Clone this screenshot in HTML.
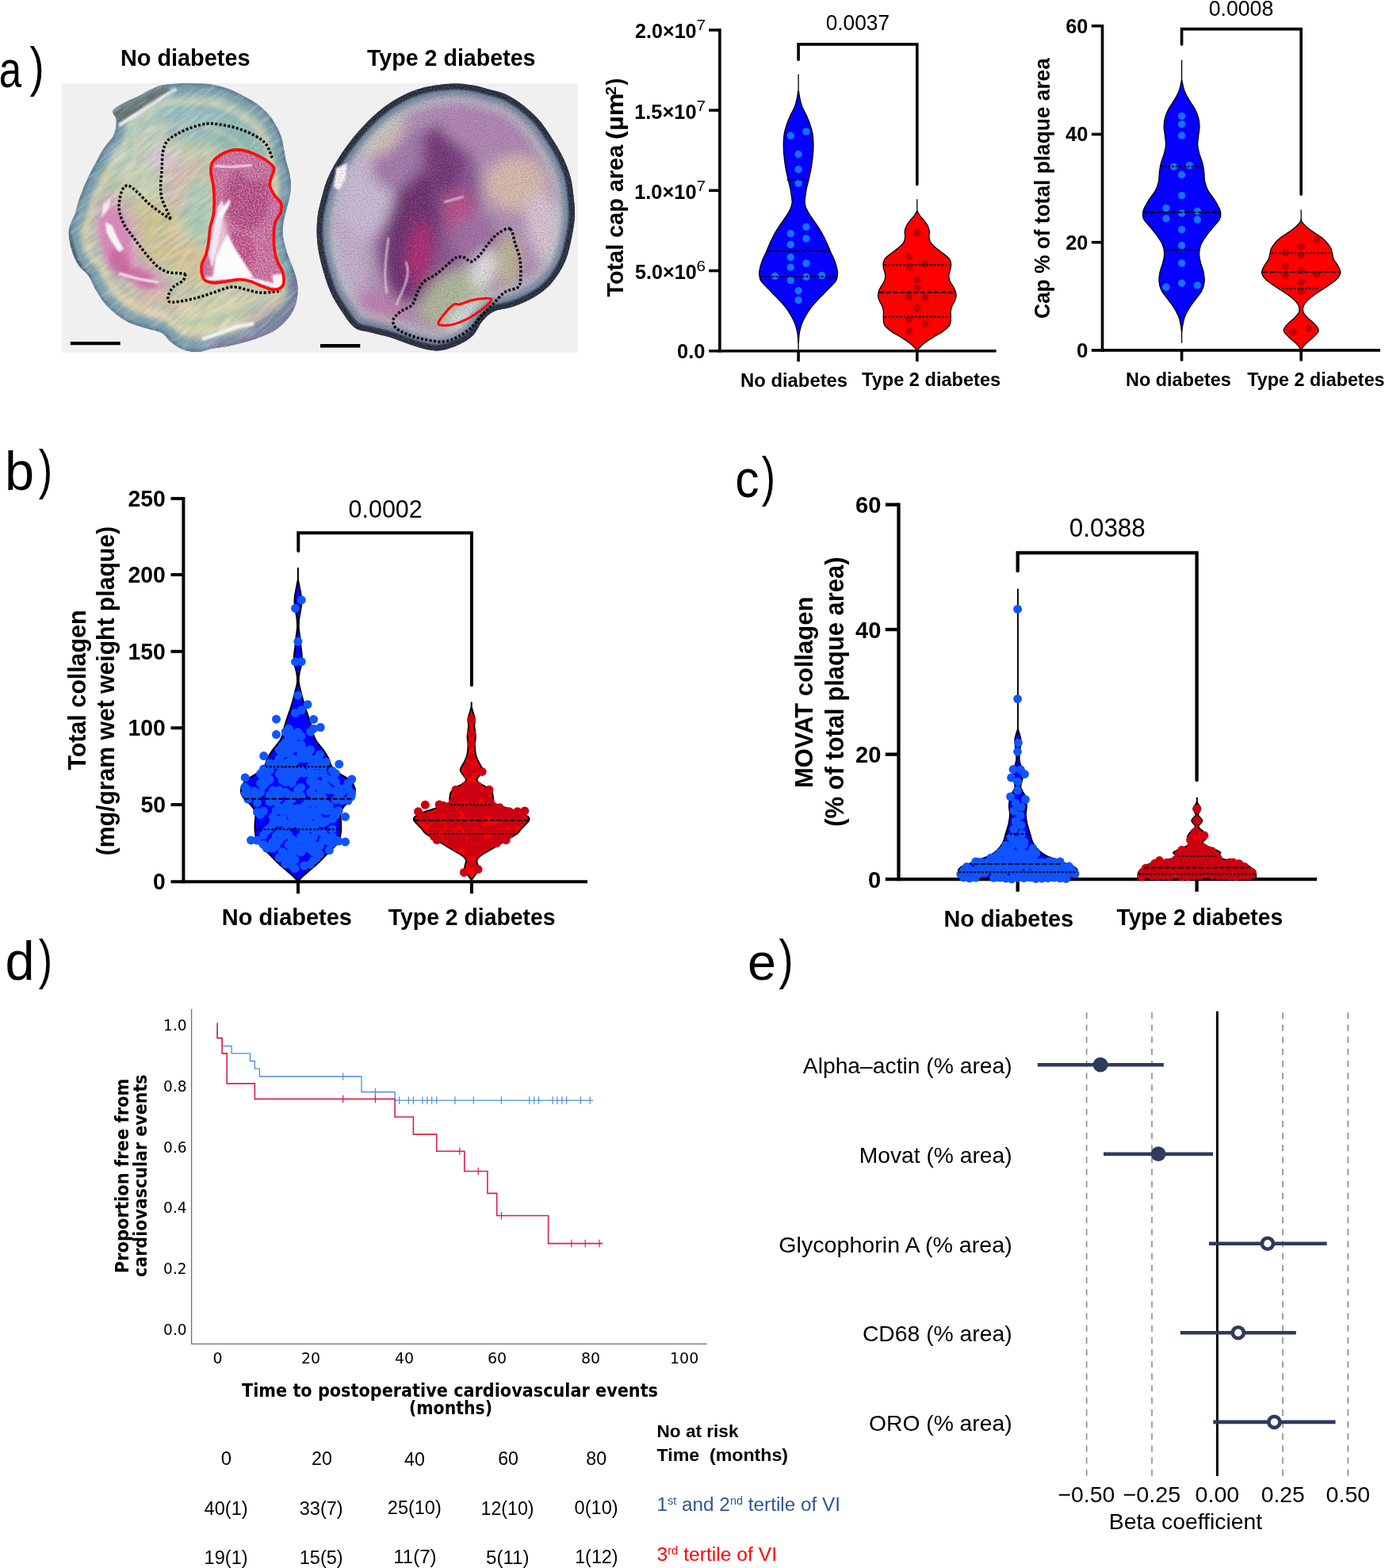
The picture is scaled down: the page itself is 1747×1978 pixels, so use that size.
<!DOCTYPE html>
<html lang="en"><head><meta charset="utf-8"><title>Figure</title>
<style>
html,body{margin:0;padding:0;background:#fff}
svg{display:block}
text{white-space:pre}
</style></head><body>
<svg width="1747" height="1978" viewBox="0 0 1747 1978">
<rect width="1747" height="1978" fill="#fff"/>
<!-- panel_a_img -->
<defs>
<clipPath id="cT1"><path d="M224.8 105.5C231.6 105.1 238.1 105 245 105.2C251.9 105.4 258.8 105.4 266 106.5C273.2 107.6 281.2 109.6 288 112C294.8 114.4 301 117.8 307 121C313 124.2 318.8 127.2 324 131C329.2 134.8 334 139.1 338 143.6C342 148.1 345.2 153.2 348 158C350.8 162.8 353 167.4 354.7 172.4C356.4 177.4 357 182.9 358 188C359 193.1 359.6 198 360.8 203C362 208 364 212.8 365 218C366 223.2 367 228.7 367 234C367 239.3 366 244.8 365 250C364 255.2 362.2 259.8 361 265C359.8 270.2 358.2 275.8 357.5 281C356.8 286.2 356.3 290.8 356.7 296C357.1 301.2 358.6 306.8 360 312C361.4 317.2 363.2 322 365 327C366.8 332 369.3 336.8 371 342C372.7 347.2 374.3 352.7 375 358C375.7 363.3 375.7 368.8 375 374C374.3 379.2 373.2 384.2 371 389C368.8 393.8 365.8 398.6 362 403C358.2 407.4 354 411.9 348.5 415.6C343 419.3 335.9 422.3 329 425C322.1 427.7 314.2 430 307 432C299.8 434 292.8 435.7 286 437C279.2 438.3 271.3 438.9 266 440C260.7 441.1 257.4 442.8 254 443.5C250.6 444.2 248.8 444.2 245.5 444C242.2 443.8 237.4 443 234 442C230.6 441 228.1 440 224.8 438C221.5 436 217.5 433 214 430C210.5 427 209 422.7 204 420C199 417.3 190.8 416.2 184 414C177.2 411.8 169.3 410 163 407C156.7 404 151.2 400.1 146 396C140.8 391.9 136.2 387.6 132 382.6C127.8 377.6 124.4 371.8 121 366C117.6 360.2 114.7 352.3 111.5 347.6C108.3 342.9 104.8 341.4 102 338C99.2 334.6 97.2 331.7 95 327C92.8 322.3 90.4 315.8 89 310C87.6 304.2 86.6 297 86.8 292C87 287 88.6 283.8 90 280C91.4 276.2 93.5 273.3 95 269C96.5 264.7 97.3 259.2 99 254C100.7 248.8 102.7 243.7 105 238C107.3 232.3 110.2 225.8 113 220C115.8 214.2 119 208.5 122 203C125 197.5 127.6 192.1 131 187C134.4 181.9 139.9 176.6 142.4 172.4C144.9 168.2 145.3 165.8 146 162C146.7 158.2 147.1 153.6 146.5 149.8C145.9 146.1 140.5 143 142.4 139.5C144.3 136 152.5 132.1 158 129C163.5 125.9 170.1 123.7 175.4 121C180.7 118.3 185.2 115.2 190 113C194.8 110.8 198.2 108.8 204 107.5C209.8 106.2 218 105.9 224.8 105.5Z"/></clipPath>
<clipPath id="cT2"><path d="M571.3 105.5C581.6 105 588.4 106.3 596 107.5C603.6 108.7 609.8 110.8 616.7 112.7C623.6 114.6 630.4 115.7 637.3 118.8C644.2 121.9 651 126 657.9 131.2C664.8 136.4 672.3 142.9 678.5 149.8C684.7 156.7 689.9 164.5 695 172.4C700.1 180.3 705.3 188.5 709.4 197.1C713.5 205.7 717.3 215 719.7 223.9C722.1 232.8 722.9 242.1 723.8 250.7C724.6 259.3 725.5 266.2 724.8 275.5C724.1 284.8 721.9 296.8 719.7 306.4C717.5 316 715.5 324.5 711.4 333.1C707.3 341.7 701.2 351 695 357.9C688.8 364.8 682.3 369.6 674.4 374.4C666.5 379.2 656.2 383.6 647.6 386.7C639 389.8 629.3 389.8 622.8 392.9C616.3 396 612.9 400.1 608.4 405.3C603.9 410.5 601.5 418.7 596 423.8C590.5 428.9 583 433.1 575.5 436.2C568 439.3 559.6 442.4 550.7 442.4C541.8 442.4 531.5 439 521.9 436.2C512.3 433.4 502 428.6 493 425.8C484 423 475.6 421.6 468 419.5C460.4 417.4 453.8 417.9 447.7 413.5C441.6 409.1 436.3 400.4 431.2 392.9C426.1 385.3 420.9 377.5 416.8 368.2C412.7 358.9 409.2 347.6 406.5 337.3C403.8 327 401.3 316.7 400.3 306.4C399.3 296.1 399.3 285.5 400.3 275.5C401.3 265.5 404.1 255.5 406.5 246.6C408.9 237.7 410.6 230.8 414.7 221.9C418.8 213 425 202.3 431.2 193C437.4 183.7 444.2 174.8 451.8 166.2C459.4 157.6 467.9 148.7 476.5 141.5C485.1 134.3 493.7 128.2 503.3 123C512.9 117.8 522.9 113.5 534.2 110.6C545.5 107.7 561 106 571.3 105.5Z"/></clipPath>
<clipPath id="cImg"><rect x="78.2" y="105" width="650.8" height="339.8"/></clipPath>
<clipPath id="cR1"><path d="M268.1 204.4C270.9 200.3 277.2 195.6 282.5 193C287.8 190.4 294.2 188.9 300.1 188.9C306 188.9 311.9 190.9 317.6 193C323.3 195.1 329.5 198.2 334.1 201.3C338.7 204.4 344 207.8 345.4 211.6C346.8 215.4 343.2 220.1 342.3 223.9C341.4 227.7 339.5 230.4 340.2 234.2C340.9 238 344 242.8 346.4 246.6C348.8 250.4 353.5 253.1 354.7 256.9C355.9 260.7 354.8 265.5 353.6 269.3C352.4 273.1 348.8 275.2 347.4 279.6C346 284.1 345.6 289.8 345.4 296C345.2 302.2 345.5 310.8 346.4 316.7C347.2 322.6 348.8 326.6 350.5 331.1C352.2 335.6 355.5 339 356.7 343.5C357.9 348 358.4 354.5 357.7 357.9C357 361.3 355.2 362.8 352.6 364C350 365.2 346.4 365.8 342.3 365.1C338.2 364.4 332.4 361.6 327.9 359.9C323.4 358.2 319.6 356 315.5 354.8C311.4 353.6 307.9 352.7 303.1 352.7C298.3 352.7 292.2 354.1 286.7 354.8C281.2 355.5 274.8 357 270.2 356.8C265.6 356.6 261.4 355.7 258.8 353.8C256.2 351.9 255.4 348.9 254.7 345.5C254 342.1 253.8 337.2 254.7 333.1C255.6 329 258.5 325.2 259.9 320.8C261.3 316.4 262.1 311.9 263 306.4C263.9 300.9 264 293.6 265 287.8C266 282 268.2 276.8 269.1 271.3C270 265.8 270.2 261 270.2 254.8C270.2 248.6 269.8 240.4 269.1 234.2C268.4 228 266.2 222.8 266 217.8C265.8 212.8 265.4 208.5 268.1 204.4Z"/></clipPath>
<filter id="b3" x="-30%" y="-30%" width="160%" height="160%"><feGaussianBlur stdDeviation="3"/></filter>
<filter id="b5" x="-30%" y="-30%" width="160%" height="160%"><feGaussianBlur stdDeviation="5"/></filter>
<filter id="b8" x="-40%" y="-40%" width="180%" height="180%"><feGaussianBlur stdDeviation="8"/></filter>
<filter id="b1" x="-20%" y="-20%" width="140%" height="140%"><feGaussianBlur stdDeviation="1.2"/></filter>
<filter id="grain" x="0" y="0" width="100%" height="100%"><feTurbulence type="fractalNoise" baseFrequency="0.55" numOctaves="2" seed="4" result="n"/><feColorMatrix in="n" type="matrix" values="0 0 0 0 1  0 0 0 0 1  0 0 0 0 1  1.6 0 0 0 -0.62"/></filter>
<filter id="grainD" x="0" y="0" width="100%" height="100%"><feTurbulence type="fractalNoise" baseFrequency="0.6" numOctaves="2" seed="9" result="n"/><feColorMatrix in="n" type="matrix" values="0 0 0 0 0.25  0 0 0 0 0.05  0 0 0 0 0.25  0 1.8 0 0 -0.75"/></filter>
<filter id="fib" x="0" y="0" width="100%" height="100%"><feTurbulence type="fractalNoise" baseFrequency="0.035 0.22" numOctaves="2" seed="11" result="n"/><feColorMatrix in="n" type="matrix" values="0 0 0 0 1  0 0 0 0 1  0 0 0 0 1  2.2 0 0 0 -0.95"/></filter>
<filter id="fibD" x="0" y="0" width="100%" height="100%"><feTurbulence type="fractalNoise" baseFrequency="0.04 0.25" numOctaves="2" seed="23" result="n"/><feColorMatrix in="n" type="matrix" values="0 0 0 0 0.25  0 0 0 0 0.35  0 0 0 0 0.4  0 2.2 0 0 -0.95"/></filter>
</defs>
<rect x="78.2" y="105" width="650.8" height="339.8" fill="#eff0ef"/>
<g clip-path="url(#cImg)">
<g clip-path="url(#cT1)">
<path d="M224.8 105.5C231.6 105.1 238.1 105 245 105.2C251.9 105.4 258.8 105.4 266 106.5C273.2 107.6 281.2 109.6 288 112C294.8 114.4 301 117.8 307 121C313 124.2 318.8 127.2 324 131C329.2 134.8 334 139.1 338 143.6C342 148.1 345.2 153.2 348 158C350.8 162.8 353 167.4 354.7 172.4C356.4 177.4 357 182.9 358 188C359 193.1 359.6 198 360.8 203C362 208 364 212.8 365 218C366 223.2 367 228.7 367 234C367 239.3 366 244.8 365 250C364 255.2 362.2 259.8 361 265C359.8 270.2 358.2 275.8 357.5 281C356.8 286.2 356.3 290.8 356.7 296C357.1 301.2 358.6 306.8 360 312C361.4 317.2 363.2 322 365 327C366.8 332 369.3 336.8 371 342C372.7 347.2 374.3 352.7 375 358C375.7 363.3 375.7 368.8 375 374C374.3 379.2 373.2 384.2 371 389C368.8 393.8 365.8 398.6 362 403C358.2 407.4 354 411.9 348.5 415.6C343 419.3 335.9 422.3 329 425C322.1 427.7 314.2 430 307 432C299.8 434 292.8 435.7 286 437C279.2 438.3 271.3 438.9 266 440C260.7 441.1 257.4 442.8 254 443.5C250.6 444.2 248.8 444.2 245.5 444C242.2 443.8 237.4 443 234 442C230.6 441 228.1 440 224.8 438C221.5 436 217.5 433 214 430C210.5 427 209 422.7 204 420C199 417.3 190.8 416.2 184 414C177.2 411.8 169.3 410 163 407C156.7 404 151.2 400.1 146 396C140.8 391.9 136.2 387.6 132 382.6C127.8 377.6 124.4 371.8 121 366C117.6 360.2 114.7 352.3 111.5 347.6C108.3 342.9 104.8 341.4 102 338C99.2 334.6 97.2 331.7 95 327C92.8 322.3 90.4 315.8 89 310C87.6 304.2 86.6 297 86.8 292C87 287 88.6 283.8 90 280C91.4 276.2 93.5 273.3 95 269C96.5 264.7 97.3 259.2 99 254C100.7 248.8 102.7 243.7 105 238C107.3 232.3 110.2 225.8 113 220C115.8 214.2 119 208.5 122 203C125 197.5 127.6 192.1 131 187C134.4 181.9 139.9 176.6 142.4 172.4C144.9 168.2 145.3 165.8 146 162C146.7 158.2 147.1 153.6 146.5 149.8C145.9 146.1 140.5 143 142.4 139.5C144.3 136 152.5 132.1 158 129C163.5 125.9 170.1 123.7 175.4 121C180.7 118.3 185.2 115.2 190 113C194.8 110.8 198.2 108.8 204 107.5C209.8 106.2 218 105.9 224.8 105.5Z" fill="#c2c6a4"/>
<g filter="url(#b8)"><ellipse cx="250" cy="150" rx="75" ry="30" fill="#93b9bb" transform="rotate(10 250 150)"/><ellipse cx="300" cy="175" rx="45" ry="22" fill="#86b5ac" transform="rotate(25 300 175)"/><ellipse cx="200" cy="215" rx="50" ry="35" fill="#c3cfae"/><ellipse cx="170" cy="180" rx="45" ry="28" fill="#bccdb8" transform="rotate(-40 170 180)"/><ellipse cx="235" cy="235" rx="30" ry="35" fill="#d3b9a6"/><ellipse cx="195" cy="295" rx="35" ry="45" fill="#cdc18c" transform="rotate(-35 195 295)"/><ellipse cx="240" cy="320" rx="22" ry="40" fill="#d6c090" transform="rotate(-20 240 320)"/><ellipse cx="250" cy="265" rx="18" ry="45" fill="#a9c9b0"/><ellipse cx="265" cy="400" rx="70" ry="28" fill="#d0d0a8" transform="rotate(-8 265 400)"/><ellipse cx="190" cy="385" rx="45" ry="18" fill="#d8bfa0" transform="rotate(15 190 385)"/><ellipse cx="147" cy="300" rx="26" ry="55" fill="#d59cc0" transform="rotate(-12 147 300)"/><ellipse cx="185" cy="350" rx="30" ry="14" fill="#d58fb8" transform="rotate(30 185 350)"/><ellipse cx="335" cy="410" rx="35" ry="22" fill="#a489a8" transform="rotate(-30 335 410)"/><ellipse cx="255" cy="435" rx="50" ry="8" fill="#9c85a6"/><ellipse cx="205" cy="200" rx="18" ry="14" fill="#d7bfd2"/></g>
<path d="M224.8 105.5C231.6 105.1 238.1 105 245 105.2C251.9 105.4 258.8 105.4 266 106.5C273.2 107.6 281.2 109.6 288 112C294.8 114.4 301 117.8 307 121C313 124.2 318.8 127.2 324 131C329.2 134.8 334 139.1 338 143.6C342 148.1 345.2 153.2 348 158C350.8 162.8 353 167.4 354.7 172.4C356.4 177.4 357 182.9 358 188C359 193.1 359.6 198 360.8 203C362 208 364 212.8 365 218C366 223.2 367 228.7 367 234C367 239.3 366 244.8 365 250C364 255.2 362.2 259.8 361 265C359.8 270.2 358.2 275.8 357.5 281C356.8 286.2 356.3 290.8 356.7 296C357.1 301.2 358.6 306.8 360 312C361.4 317.2 363.2 322 365 327C366.8 332 369.3 336.8 371 342C372.7 347.2 374.3 352.7 375 358C375.7 363.3 375.7 368.8 375 374C374.3 379.2 373.2 384.2 371 389C368.8 393.8 365.8 398.6 362 403C358.2 407.4 354 411.9 348.5 415.6C343 419.3 335.9 422.3 329 425C322.1 427.7 314.2 430 307 432C299.8 434 292.8 435.7 286 437C279.2 438.3 271.3 438.9 266 440C260.7 441.1 257.4 442.8 254 443.5C250.6 444.2 248.8 444.2 245.5 444C242.2 443.8 237.4 443 234 442C230.6 441 228.1 440 224.8 438C221.5 436 217.5 433 214 430C210.5 427 209 422.7 204 420C199 417.3 190.8 416.2 184 414C177.2 411.8 169.3 410 163 407C156.7 404 151.2 400.1 146 396C140.8 391.9 136.2 387.6 132 382.6C127.8 377.6 124.4 371.8 121 366C117.6 360.2 114.7 352.3 111.5 347.6C108.3 342.9 104.8 341.4 102 338C99.2 334.6 97.2 331.7 95 327C92.8 322.3 90.4 315.8 89 310C87.6 304.2 86.6 297 86.8 292C87 287 88.6 283.8 90 280C91.4 276.2 93.5 273.3 95 269C96.5 264.7 97.3 259.2 99 254C100.7 248.8 102.7 243.7 105 238C107.3 232.3 110.2 225.8 113 220C115.8 214.2 119 208.5 122 203C125 197.5 127.6 192.1 131 187C134.4 181.9 139.9 176.6 142.4 172.4C144.9 168.2 145.3 165.8 146 162C146.7 158.2 147.1 153.6 146.5 149.8C145.9 146.1 140.5 143 142.4 139.5C144.3 136 152.5 132.1 158 129C163.5 125.9 170.1 123.7 175.4 121C180.7 118.3 185.2 115.2 190 113C194.8 110.8 198.2 108.8 204 107.5C209.8 106.2 218 105.9 224.8 105.5Z" transform="translate(232 272) scale(0.86) translate(-232 -272)" fill="none" stroke="#dcd9b4" stroke-width="9" opacity="0.55" filter="url(#b3)"/>
<path d="M224.8 105.5C231.6 105.1 238.1 105 245 105.2C251.9 105.4 258.8 105.4 266 106.5C273.2 107.6 281.2 109.6 288 112C294.8 114.4 301 117.8 307 121C313 124.2 318.8 127.2 324 131C329.2 134.8 334 139.1 338 143.6C342 148.1 345.2 153.2 348 158C350.8 162.8 353 167.4 354.7 172.4C356.4 177.4 357 182.9 358 188C359 193.1 359.6 198 360.8 203C362 208 364 212.8 365 218C366 223.2 367 228.7 367 234C367 239.3 366 244.8 365 250C364 255.2 362.2 259.8 361 265C359.8 270.2 358.2 275.8 357.5 281C356.8 286.2 356.3 290.8 356.7 296C357.1 301.2 358.6 306.8 360 312C361.4 317.2 363.2 322 365 327C366.8 332 369.3 336.8 371 342C372.7 347.2 374.3 352.7 375 358C375.7 363.3 375.7 368.8 375 374C374.3 379.2 373.2 384.2 371 389C368.8 393.8 365.8 398.6 362 403C358.2 407.4 354 411.9 348.5 415.6C343 419.3 335.9 422.3 329 425C322.1 427.7 314.2 430 307 432C299.8 434 292.8 435.7 286 437C279.2 438.3 271.3 438.9 266 440C260.7 441.1 257.4 442.8 254 443.5C250.6 444.2 248.8 444.2 245.5 444C242.2 443.8 237.4 443 234 442C230.6 441 228.1 440 224.8 438C221.5 436 217.5 433 214 430C210.5 427 209 422.7 204 420C199 417.3 190.8 416.2 184 414C177.2 411.8 169.3 410 163 407C156.7 404 151.2 400.1 146 396C140.8 391.9 136.2 387.6 132 382.6C127.8 377.6 124.4 371.8 121 366C117.6 360.2 114.7 352.3 111.5 347.6C108.3 342.9 104.8 341.4 102 338C99.2 334.6 97.2 331.7 95 327C92.8 322.3 90.4 315.8 89 310C87.6 304.2 86.6 297 86.8 292C87 287 88.6 283.8 90 280C91.4 276.2 93.5 273.3 95 269C96.5 264.7 97.3 259.2 99 254C100.7 248.8 102.7 243.7 105 238C107.3 232.3 110.2 225.8 113 220C115.8 214.2 119 208.5 122 203C125 197.5 127.6 192.1 131 187C134.4 181.9 139.9 176.6 142.4 172.4C144.9 168.2 145.3 165.8 146 162C146.7 158.2 147.1 153.6 146.5 149.8C145.9 146.1 140.5 143 142.4 139.5C144.3 136 152.5 132.1 158 129C163.5 125.9 170.1 123.7 175.4 121C180.7 118.3 185.2 115.2 190 113C194.8 110.8 198.2 108.8 204 107.5C209.8 106.2 218 105.9 224.8 105.5Z" transform="translate(232 272) scale(0.93) translate(-232 -272)" fill="none" stroke="#86b3b6" stroke-width="6" opacity="0.5" filter="url(#b3)"/>
<path d="M224.8 105.5C231.6 105.1 238.1 105 245 105.2C251.9 105.4 258.8 105.4 266 106.5C273.2 107.6 281.2 109.6 288 112C294.8 114.4 301 117.8 307 121C313 124.2 318.8 127.2 324 131C329.2 134.8 334 139.1 338 143.6C342 148.1 345.2 153.2 348 158C350.8 162.8 353 167.4 354.7 172.4C356.4 177.4 357 182.9 358 188C359 193.1 359.6 198 360.8 203C362 208 364 212.8 365 218C366 223.2 367 228.7 367 234C367 239.3 366 244.8 365 250C364 255.2 362.2 259.8 361 265C359.8 270.2 358.2 275.8 357.5 281C356.8 286.2 356.3 290.8 356.7 296C357.1 301.2 358.6 306.8 360 312C361.4 317.2 363.2 322 365 327C366.8 332 369.3 336.8 371 342C372.7 347.2 374.3 352.7 375 358C375.7 363.3 375.7 368.8 375 374C374.3 379.2 373.2 384.2 371 389C368.8 393.8 365.8 398.6 362 403C358.2 407.4 354 411.9 348.5 415.6C343 419.3 335.9 422.3 329 425C322.1 427.7 314.2 430 307 432C299.8 434 292.8 435.7 286 437C279.2 438.3 271.3 438.9 266 440C260.7 441.1 257.4 442.8 254 443.5C250.6 444.2 248.8 444.2 245.5 444C242.2 443.8 237.4 443 234 442C230.6 441 228.1 440 224.8 438C221.5 436 217.5 433 214 430C210.5 427 209 422.7 204 420C199 417.3 190.8 416.2 184 414C177.2 411.8 169.3 410 163 407C156.7 404 151.2 400.1 146 396C140.8 391.9 136.2 387.6 132 382.6C127.8 377.6 124.4 371.8 121 366C117.6 360.2 114.7 352.3 111.5 347.6C108.3 342.9 104.8 341.4 102 338C99.2 334.6 97.2 331.7 95 327C92.8 322.3 90.4 315.8 89 310C87.6 304.2 86.6 297 86.8 292C87 287 88.6 283.8 90 280C91.4 276.2 93.5 273.3 95 269C96.5 264.7 97.3 259.2 99 254C100.7 248.8 102.7 243.7 105 238C107.3 232.3 110.2 225.8 113 220C115.8 214.2 119 208.5 122 203C125 197.5 127.6 192.1 131 187C134.4 181.9 139.9 176.6 142.4 172.4C144.9 168.2 145.3 165.8 146 162C146.7 158.2 147.1 153.6 146.5 149.8C145.9 146.1 140.5 143 142.4 139.5C144.3 136 152.5 132.1 158 129C163.5 125.9 170.1 123.7 175.4 121C180.7 118.3 185.2 115.2 190 113C194.8 110.8 198.2 108.8 204 107.5C209.8 106.2 218 105.9 224.8 105.5Z" transform="translate(232 272) scale(0.78) translate(-232 -272)" fill="none" stroke="#9cc3b4" stroke-width="7" opacity="0.4" filter="url(#b3)"/>
<path d="M224.8 105.5C231.6 105.1 238.1 105 245 105.2C251.9 105.4 258.8 105.4 266 106.5C273.2 107.6 281.2 109.6 288 112C294.8 114.4 301 117.8 307 121C313 124.2 318.8 127.2 324 131C329.2 134.8 334 139.1 338 143.6C342 148.1 345.2 153.2 348 158C350.8 162.8 353 167.4 354.7 172.4C356.4 177.4 357 182.9 358 188C359 193.1 359.6 198 360.8 203C362 208 364 212.8 365 218C366 223.2 367 228.7 367 234C367 239.3 366 244.8 365 250C364 255.2 362.2 259.8 361 265C359.8 270.2 358.2 275.8 357.5 281C356.8 286.2 356.3 290.8 356.7 296C357.1 301.2 358.6 306.8 360 312C361.4 317.2 363.2 322 365 327C366.8 332 369.3 336.8 371 342C372.7 347.2 374.3 352.7 375 358C375.7 363.3 375.7 368.8 375 374C374.3 379.2 373.2 384.2 371 389C368.8 393.8 365.8 398.6 362 403C358.2 407.4 354 411.9 348.5 415.6C343 419.3 335.9 422.3 329 425C322.1 427.7 314.2 430 307 432C299.8 434 292.8 435.7 286 437C279.2 438.3 271.3 438.9 266 440C260.7 441.1 257.4 442.8 254 443.5C250.6 444.2 248.8 444.2 245.5 444C242.2 443.8 237.4 443 234 442C230.6 441 228.1 440 224.8 438C221.5 436 217.5 433 214 430C210.5 427 209 422.7 204 420C199 417.3 190.8 416.2 184 414C177.2 411.8 169.3 410 163 407C156.7 404 151.2 400.1 146 396C140.8 391.9 136.2 387.6 132 382.6C127.8 377.6 124.4 371.8 121 366C117.6 360.2 114.7 352.3 111.5 347.6C108.3 342.9 104.8 341.4 102 338C99.2 334.6 97.2 331.7 95 327C92.8 322.3 90.4 315.8 89 310C87.6 304.2 86.6 297 86.8 292C87 287 88.6 283.8 90 280C91.4 276.2 93.5 273.3 95 269C96.5 264.7 97.3 259.2 99 254C100.7 248.8 102.7 243.7 105 238C107.3 232.3 110.2 225.8 113 220C115.8 214.2 119 208.5 122 203C125 197.5 127.6 192.1 131 187C134.4 181.9 139.9 176.6 142.4 172.4C144.9 168.2 145.3 165.8 146 162C146.7 158.2 147.1 153.6 146.5 149.8C145.9 146.1 140.5 143 142.4 139.5C144.3 136 152.5 132.1 158 129C163.5 125.9 170.1 123.7 175.4 121C180.7 118.3 185.2 115.2 190 113C194.8 110.8 198.2 108.8 204 107.5C209.8 106.2 218 105.9 224.8 105.5Z" transform="translate(232 272) scale(0.68) translate(-232 -272)" fill="none" stroke="#e0cfae" stroke-width="8" opacity="0.4" filter="url(#b3)"/>
<path d="M224.8 105.5C231.6 105.1 238.1 105 245 105.2C251.9 105.4 258.8 105.4 266 106.5C273.2 107.6 281.2 109.6 288 112C294.8 114.4 301 117.8 307 121C313 124.2 318.8 127.2 324 131C329.2 134.8 334 139.1 338 143.6C342 148.1 345.2 153.2 348 158C350.8 162.8 353 167.4 354.7 172.4C356.4 177.4 357 182.9 358 188C359 193.1 359.6 198 360.8 203C362 208 364 212.8 365 218C366 223.2 367 228.7 367 234C367 239.3 366 244.8 365 250C364 255.2 362.2 259.8 361 265C359.8 270.2 358.2 275.8 357.5 281C356.8 286.2 356.3 290.8 356.7 296C357.1 301.2 358.6 306.8 360 312C361.4 317.2 363.2 322 365 327C366.8 332 369.3 336.8 371 342C372.7 347.2 374.3 352.7 375 358C375.7 363.3 375.7 368.8 375 374C374.3 379.2 373.2 384.2 371 389C368.8 393.8 365.8 398.6 362 403C358.2 407.4 354 411.9 348.5 415.6C343 419.3 335.9 422.3 329 425C322.1 427.7 314.2 430 307 432C299.8 434 292.8 435.7 286 437C279.2 438.3 271.3 438.9 266 440C260.7 441.1 257.4 442.8 254 443.5C250.6 444.2 248.8 444.2 245.5 444C242.2 443.8 237.4 443 234 442C230.6 441 228.1 440 224.8 438C221.5 436 217.5 433 214 430C210.5 427 209 422.7 204 420C199 417.3 190.8 416.2 184 414C177.2 411.8 169.3 410 163 407C156.7 404 151.2 400.1 146 396C140.8 391.9 136.2 387.6 132 382.6C127.8 377.6 124.4 371.8 121 366C117.6 360.2 114.7 352.3 111.5 347.6C108.3 342.9 104.8 341.4 102 338C99.2 334.6 97.2 331.7 95 327C92.8 322.3 90.4 315.8 89 310C87.6 304.2 86.6 297 86.8 292C87 287 88.6 283.8 90 280C91.4 276.2 93.5 273.3 95 269C96.5 264.7 97.3 259.2 99 254C100.7 248.8 102.7 243.7 105 238C107.3 232.3 110.2 225.8 113 220C115.8 214.2 119 208.5 122 203C125 197.5 127.6 192.1 131 187C134.4 181.9 139.9 176.6 142.4 172.4C144.9 168.2 145.3 165.8 146 162C146.7 158.2 147.1 153.6 146.5 149.8C145.9 146.1 140.5 143 142.4 139.5C144.3 136 152.5 132.1 158 129C163.5 125.9 170.1 123.7 175.4 121C180.7 118.3 185.2 115.2 190 113C194.8 110.8 198.2 108.8 204 107.5C209.8 106.2 218 105.9 224.8 105.5Z" fill="none" stroke="#6a93a6" stroke-width="26" opacity="0.9" filter="url(#b3)"/>
<path d="M224.8 105.5C231.6 105.1 238.1 105 245 105.2C251.9 105.4 258.8 105.4 266 106.5C273.2 107.6 281.2 109.6 288 112C294.8 114.4 301 117.8 307 121C313 124.2 318.8 127.2 324 131C329.2 134.8 334 139.1 338 143.6C342 148.1 345.2 153.2 348 158C350.8 162.8 353 167.4 354.7 172.4C356.4 177.4 357 182.9 358 188C359 193.1 359.6 198 360.8 203C362 208 364 212.8 365 218C366 223.2 367 228.7 367 234C367 239.3 366 244.8 365 250C364 255.2 362.2 259.8 361 265C359.8 270.2 358.2 275.8 357.5 281C356.8 286.2 356.3 290.8 356.7 296C357.1 301.2 358.6 306.8 360 312C361.4 317.2 363.2 322 365 327C366.8 332 369.3 336.8 371 342C372.7 347.2 374.3 352.7 375 358C375.7 363.3 375.7 368.8 375 374C374.3 379.2 373.2 384.2 371 389C368.8 393.8 365.8 398.6 362 403C358.2 407.4 354 411.9 348.5 415.6C343 419.3 335.9 422.3 329 425C322.1 427.7 314.2 430 307 432C299.8 434 292.8 435.7 286 437C279.2 438.3 271.3 438.9 266 440C260.7 441.1 257.4 442.8 254 443.5C250.6 444.2 248.8 444.2 245.5 444C242.2 443.8 237.4 443 234 442C230.6 441 228.1 440 224.8 438C221.5 436 217.5 433 214 430C210.5 427 209 422.7 204 420C199 417.3 190.8 416.2 184 414C177.2 411.8 169.3 410 163 407C156.7 404 151.2 400.1 146 396C140.8 391.9 136.2 387.6 132 382.6C127.8 377.6 124.4 371.8 121 366C117.6 360.2 114.7 352.3 111.5 347.6C108.3 342.9 104.8 341.4 102 338C99.2 334.6 97.2 331.7 95 327C92.8 322.3 90.4 315.8 89 310C87.6 304.2 86.6 297 86.8 292C87 287 88.6 283.8 90 280C91.4 276.2 93.5 273.3 95 269C96.5 264.7 97.3 259.2 99 254C100.7 248.8 102.7 243.7 105 238C107.3 232.3 110.2 225.8 113 220C115.8 214.2 119 208.5 122 203C125 197.5 127.6 192.1 131 187C134.4 181.9 139.9 176.6 142.4 172.4C144.9 168.2 145.3 165.8 146 162C146.7 158.2 147.1 153.6 146.5 149.8C145.9 146.1 140.5 143 142.4 139.5C144.3 136 152.5 132.1 158 129C163.5 125.9 170.1 123.7 175.4 121C180.7 118.3 185.2 115.2 190 113C194.8 110.8 198.2 108.8 204 107.5C209.8 106.2 218 105.9 224.8 105.5Z" fill="none" stroke="#4f6f86" stroke-width="7" opacity="0.7" filter="url(#b1)"/>
<path d="M372 350L375 374L371 389L362 403L348 416L329 425L307 432L286 437L266 440" fill="none" stroke="#8a6c9c" stroke-width="16" opacity="0.7" filter="url(#b3)"/>
<path d="M142 142L205 108L215 114L150 156Z" fill="#5d6a68" filter="url(#b1)"/>
<path d="M150 158L222 112" stroke="#f0eef2" stroke-width="4" filter="url(#b1)"/>
<path d="M86 292L96 330L112 350" stroke="#47586a" stroke-width="5" fill="none" filter="url(#b1)"/>
<path d="M320 420L372 380L376 350L360 300L368 235L355 172" stroke="#56708a" stroke-width="6" fill="none" opacity=".7" filter="url(#b3)"/>
<g transform="rotate(-38 232 272)" opacity=".3"><rect x="40" y="60" width="400" height="430" filter="url(#fib)"/></g>
<g transform="rotate(-38 232 272)" opacity=".45"><rect x="40" y="60" width="400" height="430" filter="url(#fibD)"/></g>
<g filter="url(#b3)"><ellipse cx="146" cy="303" rx="19" ry="44" fill="#d27fb0" opacity="0.85" transform="rotate(-12 146 303)"/><ellipse cx="176" cy="350" rx="24" ry="10" fill="#c8649e" opacity="0.85" transform="rotate(30 176 350)"/><ellipse cx="150" cy="330" rx="12" ry="18" fill="#c45a96" opacity="0.7" transform="rotate(-20 150 330)"/></g>
<path d="M133 280L141 284L148 300L156 314L150 318L140 304L134 292Z" fill="#f6f2f6" filter="url(#b1)"/>
<path d="M130 258L140 250L138 262L128 275Z" fill="#f3e6ee" filter="url(#b1)"/>
<path d="M150 345L175 352L200 356" stroke="#f5edf3" stroke-width="3" fill="none" filter="url(#b1)"/>
<path d="M255 428L300 412L320 408" stroke="#f3f1f3" stroke-width="5" fill="none" filter="url(#b1)"/>
<g clip-path="url(#cR1)">
<path d="M268.1 204.4C270.9 200.3 277.2 195.6 282.5 193C287.8 190.4 294.2 188.9 300.1 188.9C306 188.9 311.9 190.9 317.6 193C323.3 195.1 329.5 198.2 334.1 201.3C338.7 204.4 344 207.8 345.4 211.6C346.8 215.4 343.2 220.1 342.3 223.9C341.4 227.7 339.5 230.4 340.2 234.2C340.9 238 344 242.8 346.4 246.6C348.8 250.4 353.5 253.1 354.7 256.9C355.9 260.7 354.8 265.5 353.6 269.3C352.4 273.1 348.8 275.2 347.4 279.6C346 284.1 345.6 289.8 345.4 296C345.2 302.2 345.5 310.8 346.4 316.7C347.2 322.6 348.8 326.6 350.5 331.1C352.2 335.6 355.5 339 356.7 343.5C357.9 348 358.4 354.5 357.7 357.9C357 361.3 355.2 362.8 352.6 364C350 365.2 346.4 365.8 342.3 365.1C338.2 364.4 332.4 361.6 327.9 359.9C323.4 358.2 319.6 356 315.5 354.8C311.4 353.6 307.9 352.7 303.1 352.7C298.3 352.7 292.2 354.1 286.7 354.8C281.2 355.5 274.8 357 270.2 356.8C265.6 356.6 261.4 355.7 258.8 353.8C256.2 351.9 255.4 348.9 254.7 345.5C254 342.1 253.8 337.2 254.7 333.1C255.6 329 258.5 325.2 259.9 320.8C261.3 316.4 262.1 311.9 263 306.4C263.9 300.9 264 293.6 265 287.8C266 282 268.2 276.8 269.1 271.3C270 265.8 270.2 261 270.2 254.8C270.2 248.6 269.8 240.4 269.1 234.2C268.4 228 266.2 222.8 266 217.8C265.8 212.8 265.4 208.5 268.1 204.4Z" fill="#bf5f92"/>
<g filter="url(#b3)"><ellipse cx="312" cy="250" rx="28" ry="40" fill="#a93c78"/><ellipse cx="300" cy="320" rx="22" ry="28" fill="#b8457f"/><ellipse cx="275" cy="300" rx="12" ry="30" fill="#e3b9d0"/><ellipse cx="325" cy="215" rx="22" ry="14" fill="#b85d90"/></g>
<path d="M286.7 295L298 316L320 350L268 350L272 326Z" fill="#fdfcfd" filter="url(#b1)"/>
<path d="M262 318L270 290L274 262L280 252L284 262L276 300L268 340Z" fill="#f6ecf2" opacity=".85" filter="url(#b1)"/>
<path d="M258 352L300 349L330 356L352 362" stroke="#fbf7fa" stroke-width="5" fill="none" filter="url(#b1)"/>
<path d="M343 347L357 345L358 362L346 363Z" fill="#f7f4f7" filter="url(#b1)"/>
<path d="M271 209L290 211L318 208" stroke="#f6eef3" stroke-width="2.5" fill="none" filter="url(#b1)"/>
<path d="M275 270L290 250L290 258L279 276Z" fill="#fbf7fa" filter="url(#b1)"/>
<rect x="250" y="185" width="112" height="185" filter="url(#grain)" opacity=".55"/>
</g>
<rect x="84" y="104" width="295" height="342" filter="url(#grain)" opacity=".22"/>
</g>
<g clip-path="url(#cT2)">
<path d="M571.3 105.5C581.6 105 588.4 106.3 596 107.5C603.6 108.7 609.8 110.8 616.7 112.7C623.6 114.6 630.4 115.7 637.3 118.8C644.2 121.9 651 126 657.9 131.2C664.8 136.4 672.3 142.9 678.5 149.8C684.7 156.7 689.9 164.5 695 172.4C700.1 180.3 705.3 188.5 709.4 197.1C713.5 205.7 717.3 215 719.7 223.9C722.1 232.8 722.9 242.1 723.8 250.7C724.6 259.3 725.5 266.2 724.8 275.5C724.1 284.8 721.9 296.8 719.7 306.4C717.5 316 715.5 324.5 711.4 333.1C707.3 341.7 701.2 351 695 357.9C688.8 364.8 682.3 369.6 674.4 374.4C666.5 379.2 656.2 383.6 647.6 386.7C639 389.8 629.3 389.8 622.8 392.9C616.3 396 612.9 400.1 608.4 405.3C603.9 410.5 601.5 418.7 596 423.8C590.5 428.9 583 433.1 575.5 436.2C568 439.3 559.6 442.4 550.7 442.4C541.8 442.4 531.5 439 521.9 436.2C512.3 433.4 502 428.6 493 425.8C484 423 475.6 421.6 468 419.5C460.4 417.4 453.8 417.9 447.7 413.5C441.6 409.1 436.3 400.4 431.2 392.9C426.1 385.3 420.9 377.5 416.8 368.2C412.7 358.9 409.2 347.6 406.5 337.3C403.8 327 401.3 316.7 400.3 306.4C399.3 296.1 399.3 285.5 400.3 275.5C401.3 265.5 404.1 255.5 406.5 246.6C408.9 237.7 410.6 230.8 414.7 221.9C418.8 213 425 202.3 431.2 193C437.4 183.7 444.2 174.8 451.8 166.2C459.4 157.6 467.9 148.7 476.5 141.5C485.1 134.3 493.7 128.2 503.3 123C512.9 117.8 522.9 113.5 534.2 110.6C545.5 107.7 561 106 571.3 105.5Z" fill="#ab8fb0"/>
<g filter="url(#b8)"><ellipse cx="540" cy="270" rx="62" ry="112" fill="#84528b" transform="rotate(12 540 270)"/><ellipse cx="520" cy="300" rx="34" ry="82" fill="#642a66" transform="rotate(8 520 300)"/><ellipse cx="560" cy="200" rx="24" ry="45" fill="#6b3070" transform="rotate(-5 560 200)"/><ellipse cx="530" cy="320" rx="16" ry="40" fill="#a5286c" transform="rotate(5 530 320)"/><ellipse cx="580" cy="270" rx="18" ry="30" fill="#b5487f"/><ellipse cx="460" cy="250" rx="35" ry="60" fill="#c6bcd2" transform="rotate(15 460 250)"/><ellipse cx="440" cy="330" rx="25" ry="50" fill="#bfafc9" transform="rotate(-10 440 330)"/><ellipse cx="480" cy="390" rx="35" ry="22" fill="#b77fa8" transform="rotate(25 480 390)"/><ellipse cx="610" cy="160" rx="60" ry="35" fill="#ab84ae" transform="rotate(20 610 160)"/><ellipse cx="600" cy="300" rx="30" ry="30" fill="#9a6a9c"/><ellipse cx="500" cy="200" rx="30" ry="40" fill="#9d78a5" transform="rotate(20 500 200)"/><ellipse cx="652" cy="232" rx="40" ry="36" fill="#d3bba8"/><ellipse cx="690" cy="290" rx="25" ry="50" fill="#d3c6cc" transform="rotate(-15 690 290)"/><ellipse cx="480" cy="170" rx="35" ry="22" fill="#cfc3b6" transform="rotate(-40 480 170)"/><ellipse cx="575" cy="375" rx="50" ry="32" fill="#a9b892" transform="rotate(-35 575 375)"/><ellipse cx="640" cy="330" rx="15" ry="35" fill="#b8b58c"/><ellipse cx="590" cy="400" rx="30" ry="14" fill="#dfe9e5" transform="rotate(-35 590 400)"/><ellipse cx="610" cy="340" rx="14" ry="26" fill="#dde6dc" transform="rotate(20 610 340)"/></g>
<path d="M571.3 105.5C581.6 105 588.4 106.3 596 107.5C603.6 108.7 609.8 110.8 616.7 112.7C623.6 114.6 630.4 115.7 637.3 118.8C644.2 121.9 651 126 657.9 131.2C664.8 136.4 672.3 142.9 678.5 149.8C684.7 156.7 689.9 164.5 695 172.4C700.1 180.3 705.3 188.5 709.4 197.1C713.5 205.7 717.3 215 719.7 223.9C722.1 232.8 722.9 242.1 723.8 250.7C724.6 259.3 725.5 266.2 724.8 275.5C724.1 284.8 721.9 296.8 719.7 306.4C717.5 316 715.5 324.5 711.4 333.1C707.3 341.7 701.2 351 695 357.9C688.8 364.8 682.3 369.6 674.4 374.4C666.5 379.2 656.2 383.6 647.6 386.7C639 389.8 629.3 389.8 622.8 392.9C616.3 396 612.9 400.1 608.4 405.3C603.9 410.5 601.5 418.7 596 423.8C590.5 428.9 583 433.1 575.5 436.2C568 439.3 559.6 442.4 550.7 442.4C541.8 442.4 531.5 439 521.9 436.2C512.3 433.4 502 428.6 493 425.8C484 423 475.6 421.6 468 419.5C460.4 417.4 453.8 417.9 447.7 413.5C441.6 409.1 436.3 400.4 431.2 392.9C426.1 385.3 420.9 377.5 416.8 368.2C412.7 358.9 409.2 347.6 406.5 337.3C403.8 327 401.3 316.7 400.3 306.4C399.3 296.1 399.3 285.5 400.3 275.5C401.3 265.5 404.1 255.5 406.5 246.6C408.9 237.7 410.6 230.8 414.7 221.9C418.8 213 425 202.3 431.2 193C437.4 183.7 444.2 174.8 451.8 166.2C459.4 157.6 467.9 148.7 476.5 141.5C485.1 134.3 493.7 128.2 503.3 123C512.9 117.8 522.9 113.5 534.2 110.6C545.5 107.7 561 106 571.3 105.5Z" fill="none" stroke="#b9c9c6" stroke-width="52" opacity="0.6" filter="url(#b5)"/>
<path d="M571.3 105.5C581.6 105 588.4 106.3 596 107.5C603.6 108.7 609.8 110.8 616.7 112.7C623.6 114.6 630.4 115.7 637.3 118.8C644.2 121.9 651 126 657.9 131.2C664.8 136.4 672.3 142.9 678.5 149.8C684.7 156.7 689.9 164.5 695 172.4C700.1 180.3 705.3 188.5 709.4 197.1C713.5 205.7 717.3 215 719.7 223.9C722.1 232.8 722.9 242.1 723.8 250.7C724.6 259.3 725.5 266.2 724.8 275.5C724.1 284.8 721.9 296.8 719.7 306.4C717.5 316 715.5 324.5 711.4 333.1C707.3 341.7 701.2 351 695 357.9C688.8 364.8 682.3 369.6 674.4 374.4C666.5 379.2 656.2 383.6 647.6 386.7C639 389.8 629.3 389.8 622.8 392.9C616.3 396 612.9 400.1 608.4 405.3C603.9 410.5 601.5 418.7 596 423.8C590.5 428.9 583 433.1 575.5 436.2C568 439.3 559.6 442.4 550.7 442.4C541.8 442.4 531.5 439 521.9 436.2C512.3 433.4 502 428.6 493 425.8C484 423 475.6 421.6 468 419.5C460.4 417.4 453.8 417.9 447.7 413.5C441.6 409.1 436.3 400.4 431.2 392.9C426.1 385.3 420.9 377.5 416.8 368.2C412.7 358.9 409.2 347.6 406.5 337.3C403.8 327 401.3 316.7 400.3 306.4C399.3 296.1 399.3 285.5 400.3 275.5C401.3 265.5 404.1 255.5 406.5 246.6C408.9 237.7 410.6 230.8 414.7 221.9C418.8 213 425 202.3 431.2 193C437.4 183.7 444.2 174.8 451.8 166.2C459.4 157.6 467.9 148.7 476.5 141.5C485.1 134.3 493.7 128.2 503.3 123C512.9 117.8 522.9 113.5 534.2 110.6C545.5 107.7 561 106 571.3 105.5Z" fill="none" stroke="#5b7a90" stroke-width="30" opacity="0.8" filter="url(#b3)"/>
<path d="M571.3 105.5C581.6 105 588.4 106.3 596 107.5C603.6 108.7 609.8 110.8 616.7 112.7C623.6 114.6 630.4 115.7 637.3 118.8C644.2 121.9 651 126 657.9 131.2C664.8 136.4 672.3 142.9 678.5 149.8C684.7 156.7 689.9 164.5 695 172.4C700.1 180.3 705.3 188.5 709.4 197.1C713.5 205.7 717.3 215 719.7 223.9C722.1 232.8 722.9 242.1 723.8 250.7C724.6 259.3 725.5 266.2 724.8 275.5C724.1 284.8 721.9 296.8 719.7 306.4C717.5 316 715.5 324.5 711.4 333.1C707.3 341.7 701.2 351 695 357.9C688.8 364.8 682.3 369.6 674.4 374.4C666.5 379.2 656.2 383.6 647.6 386.7C639 389.8 629.3 389.8 622.8 392.9C616.3 396 612.9 400.1 608.4 405.3C603.9 410.5 601.5 418.7 596 423.8C590.5 428.9 583 433.1 575.5 436.2C568 439.3 559.6 442.4 550.7 442.4C541.8 442.4 531.5 439 521.9 436.2C512.3 433.4 502 428.6 493 425.8C484 423 475.6 421.6 468 419.5C460.4 417.4 453.8 417.9 447.7 413.5C441.6 409.1 436.3 400.4 431.2 392.9C426.1 385.3 420.9 377.5 416.8 368.2C412.7 358.9 409.2 347.6 406.5 337.3C403.8 327 401.3 316.7 400.3 306.4C399.3 296.1 399.3 285.5 400.3 275.5C401.3 265.5 404.1 255.5 406.5 246.6C408.9 237.7 410.6 230.8 414.7 221.9C418.8 213 425 202.3 431.2 193C437.4 183.7 444.2 174.8 451.8 166.2C459.4 157.6 467.9 148.7 476.5 141.5C485.1 134.3 493.7 128.2 503.3 123C512.9 117.8 522.9 113.5 534.2 110.6C545.5 107.7 561 106 571.3 105.5Z" fill="none" stroke="#17222f" stroke-width="15" opacity="0.95" filter="url(#b1)"/>
<path d="M424 212L438 206L436 225L428 240L421 236Z" fill="#fbfbfb" filter="url(#b1)"/>
<path d="M490 300C486 330 484 350 488 370M512 330C520 350 505 370 500 385M560 255L585 248" stroke="#f1e6ef" stroke-width="2" fill="none" filter="url(#b1)"/>
<rect x="398" y="104" width="330" height="342" filter="url(#grainD)" opacity=".5"/>
<rect x="398" y="104" width="330" height="342" filter="url(#grain)" opacity=".25"/>
</g>
</g>
<path d="M343.3 199.2C342.1 196.4 339.4 187.2 336.1 182.7C332.9 178.2 329.3 175.7 323.8 172.4C318.3 169.1 310 165.5 303.1 163.1C296.2 160.7 289.4 159.2 282.5 158C275.6 156.8 268.8 155.4 261.9 155.9C255 156.4 247.8 158.9 241.3 161.1C234.8 163.3 228 166.4 222.8 169.3C217.7 172.2 213.3 174.7 210.4 178.6C207.5 182.5 206.3 187.2 205.3 193C204.3 198.8 204.6 206.7 204.2 213.6C203.8 220.5 202.6 228 202.6 234.2C202.6 240.4 202.9 245.5 204.2 250.7C205.5 255.9 208.5 260.9 210.4 265.2C212.3 269.5 214.7 274.6 215.6 276.5" fill="none" stroke="#0a0a0a" stroke-width="3.5" stroke-dasharray="3.1 2.3"/>
<path d="M215.6 276.5C213.7 275.3 208.8 272.6 204.2 269.3C199.6 266 193 261.4 187.8 256.9C182.7 252.4 177.6 246.3 173.3 242.5C169 238.7 165.1 234.9 162 234.2C158.9 233.5 156.7 235.3 154.8 238.4C152.9 241.5 151.4 248 150.7 252.8C150 257.6 149.7 262.1 150.7 267.2C151.7 272.3 154.2 278.5 156.9 283.7C159.7 288.9 163.4 293 167.2 298.1C171 303.2 175.7 309.8 179.5 314.6C183.3 319.4 186.4 323.2 189.8 327C193.2 330.8 196.3 334.6 200.1 337.3C203.9 340.1 208.4 342.3 212.5 343.5C216.6 344.7 221.2 344.2 224.8 344.5C228.4 344.8 232.6 345.3 234.1 345.5" fill="none" stroke="#0a0a0a" stroke-width="3.5" stroke-dasharray="3.1 2.3"/>
<path d="M234.1 345.5C233.6 346.9 233.6 351.1 231 353.8C228.4 356.6 221.8 358.9 218.7 362C215.6 365.1 213.4 369.2 212.5 372.3C211.6 375.4 211.4 379.1 213.5 380.5C215.6 381.9 219.5 381.2 224.8 380.5C230.1 379.8 238.6 378.1 245.5 376.4C252.4 374.7 259.2 372.4 266.1 370.2C273 368 281.2 364.3 286.7 363C292.2 361.7 294.5 361.9 299 362.4C303.5 362.9 308.7 365 313.5 366.1C318.3 367.2 322.8 368.9 327.9 369.2C333 369.5 339.9 368.5 344.4 368.2C348.9 367.9 353 367.3 354.7 367.1" fill="none" stroke="#0a0a0a" stroke-width="3.5" stroke-dasharray="3.1 2.3"/>
<path d="M643.5 288.8C646.9 290.9 647.6 300 649.6 306.4C651.6 312.8 654.6 320.1 655.8 327C657 333.9 657.1 341.8 656.8 347.6C656.5 353.4 657 358.6 653.8 362C650.5 365.4 642.5 364.8 637.3 368.2C632.1 371.6 627.6 377.8 622.8 382.6C618 387.4 612.9 392.2 608.4 397C603.9 401.8 600.8 407 596 411.5C591.2 416 585.8 420.6 579.6 423.8C573.4 427.1 566.6 430.3 559 431C551.4 431.7 541.8 429.4 534.2 427.9C526.6 426.3 519.4 424.1 513.6 421.7C507.8 419.3 502.1 416.6 499.2 413.5C496.3 410.4 495.1 406.6 496.1 403.2C497.1 399.8 501.4 396 505.4 392.9C509.3 389.8 516.4 388.5 519.8 384.7C523.2 380.9 523.6 375 526 370.2C528.4 365.4 530.1 359.9 534.2 355.8C538.3 351.7 545.6 349.3 550.7 345.5C555.9 341.7 561 336.5 565.1 333.1C569.2 329.7 572 326.3 575.5 324.9C579 323.5 582.7 324 585.8 324.9C588.9 325.8 590.9 330.4 594 330C597.1 329.6 600.5 326.7 604.3 322.8C608.1 318.9 612.6 311.2 616.7 306.4C620.8 301.6 624.5 296.9 629 294C633.5 291.1 640.1 286.7 643.5 288.8Z" fill="none" stroke="#0a0a0a" stroke-width="3.5" stroke-dasharray="3.1 2.3"/>
<path d="M268.1 204.4C270.9 200.3 277.2 195.6 282.5 193C287.8 190.4 294.2 188.9 300.1 188.9C306 188.9 311.9 190.9 317.6 193C323.3 195.1 329.5 198.2 334.1 201.3C338.7 204.4 344 207.8 345.4 211.6C346.8 215.4 343.2 220.1 342.3 223.9C341.4 227.7 339.5 230.4 340.2 234.2C340.9 238 344 242.8 346.4 246.6C348.8 250.4 353.5 253.1 354.7 256.9C355.9 260.7 354.8 265.5 353.6 269.3C352.4 273.1 348.8 275.2 347.4 279.6C346 284.1 345.6 289.8 345.4 296C345.2 302.2 345.5 310.8 346.4 316.7C347.2 322.6 348.8 326.6 350.5 331.1C352.2 335.6 355.5 339 356.7 343.5C357.9 348 358.4 354.5 357.7 357.9C357 361.3 355.2 362.8 352.6 364C350 365.2 346.4 365.8 342.3 365.1C338.2 364.4 332.4 361.6 327.9 359.9C323.4 358.2 319.6 356 315.5 354.8C311.4 353.6 307.9 352.7 303.1 352.7C298.3 352.7 292.2 354.1 286.7 354.8C281.2 355.5 274.8 357 270.2 356.8C265.6 356.6 261.4 355.7 258.8 353.8C256.2 351.9 255.4 348.9 254.7 345.5C254 342.1 253.8 337.2 254.7 333.1C255.6 329 258.5 325.2 259.9 320.8C261.3 316.4 262.1 311.9 263 306.4C263.9 300.9 264 293.6 265 287.8C266 282 268.2 276.8 269.1 271.3C270 265.8 270.2 261 270.2 254.8C270.2 248.6 269.8 240.4 269.1 234.2C268.4 228 266.2 222.8 266 217.8C265.8 212.8 265.4 208.5 268.1 204.4Z" fill="none" stroke="#ff0a0a" stroke-width="3.7" stroke-linejoin="round"/>
<path d="M552.8 407.3C553.5 404.4 559.7 396.8 563.1 392.9C566.5 388.9 570.6 385.1 573.4 383.6C576.1 382.1 575.8 384.9 579.6 384C583.4 383.1 590.9 379.8 596 378.5C601.1 377.2 606.5 376.6 610.5 376.4C614.5 376.2 619.1 376.1 619.8 377.5C620.5 378.9 617.2 382.1 614.6 384.7C612 387.3 608.8 389.8 604.3 392.9C599.8 396 593.3 400.4 587.8 403.2C582.3 405.9 576.1 408.2 571.3 409.4C566.5 410.6 562.1 410.8 559 410.4C555.9 410 552.1 410.2 552.8 407.3Z" fill="none" stroke="#ff0a0a" stroke-width="3" stroke-linejoin="round"/>
<path d="M88.8 433.1H151.7" stroke="#000" stroke-width="4.4"/>
<path d="M404 436.2H454.3" stroke="#000" stroke-width="4.4"/>
<!-- panel_a_charts -->
<g stroke="#000" stroke-width="3.6" fill="none" stroke-linecap="butt">
<path d="M907.9 36.1V444.5"/>
<path d="M894.2 442.7H1256.6"/>
<path d="M894.2 37.9H907.9"/>
<path d="M894.2 139.1H907.9"/>
<path d="M894.2 240.3H907.9"/>
<path d="M894.2 341.5H907.9"/>
<path d="M1007.1 442.7V456.2"/>
<path d="M1156.8 442.7V456.2"/>
</g>
<path d="M1007.1 75.3V55.9H1156.8V232.6" fill="none" stroke="#000" stroke-width="3.6" stroke-linejoin="miter" stroke-linecap="round"/>
<path d="M1007.1 93.7V117" stroke="#000" stroke-width="1.3"/>
<path d="M1007.1 430.1V442.7" stroke="#000" stroke-width="1.3"/>
<path d="M1007.5 115C1007.7 116.4 1008 119.8 1008.7 123C1009.4 126.3 1010.2 130.7 1011.7 134.5C1013.1 138.3 1015.7 142.1 1017.4 145.9C1019.1 149.7 1020.7 153.6 1022 157.4C1023.2 161.2 1024.3 165 1025 168.8C1025.6 172.6 1025.8 176.5 1025.9 180.3C1026 184.1 1025.9 187.9 1025.6 191.7C1025.4 195.5 1025 199.4 1024.5 203.2C1024 207 1023.4 210.8 1022.7 214.6C1021.9 218.4 1021 222.3 1020.2 226.1C1019.3 229.9 1018.2 233.7 1017.4 237.5C1016.6 241.3 1016 245.9 1015.6 249C1015.2 252 1014.9 253.5 1015.1 255.8C1015.3 258.1 1015.8 260 1016.9 262.7C1018.1 265.4 1019.8 268.4 1022 271.9C1024.2 275.3 1027.5 279.5 1030 283.3C1032.5 287.1 1035 290.9 1037.1 294.8C1039.2 298.6 1041.1 302.4 1042.8 306.2C1044.6 310 1045.9 313.8 1047.6 317.7C1049.3 321.5 1051.5 325.3 1052.9 329.1C1054.3 332.9 1055.5 337.5 1056.1 340.5C1056.7 343.6 1056.6 345.1 1056.3 347.4C1056 349.7 1056 351.6 1054.3 354.3C1052.5 357 1049.3 360 1046 363.4C1042.8 366.9 1038.4 371.1 1034.8 374.9C1031.2 378.7 1027.3 382.5 1024.3 386.3C1021.2 390.2 1018.7 394 1016.5 397.8C1014.3 401.6 1012.4 405.4 1011 409.2C1009.6 413.1 1008.9 416.9 1008.2 420.7C1007.6 424.5 1007.5 430.2 1007.3 432.1L1006.9 432.1C1006.7 430.2 1006.6 424.5 1006 420.7C1005.3 416.9 1004.6 413.1 1003.2 409.2C1001.8 405.4 999.9 401.6 997.7 397.8C995.5 394 993 390.2 989.9 386.3C986.9 382.5 983 378.7 979.4 374.9C975.8 371.1 971.4 366.9 968.2 363.4C964.9 360 961.7 357 959.9 354.3C958.2 351.6 958.2 349.7 957.9 347.4C957.6 345.1 957.5 343.6 958.1 340.5C958.7 337.5 959.9 332.9 961.3 329.1C962.7 325.3 964.9 321.5 966.6 317.7C968.3 313.8 969.6 310 971.4 306.2C973.1 302.4 975 298.6 977.1 294.8C979.2 290.9 981.7 287.1 984.2 283.3C986.7 279.5 990 275.3 992.2 271.9C994.4 268.4 996.1 265.4 997.3 262.7C998.4 260 998.9 258.1 999.1 255.8C999.3 253.5 999 252 998.6 249C998.2 245.9 997.6 241.3 996.8 237.5C996 233.7 994.9 229.9 994 226.1C993.2 222.3 992.3 218.4 991.5 214.6C990.8 210.8 990.2 207 989.7 203.2C989.2 199.4 988.8 195.5 988.6 191.7C988.3 187.9 988.2 184.1 988.3 180.3C988.4 176.5 988.6 172.6 989.2 168.8C989.9 165 991 161.2 992.2 157.4C993.5 153.6 995.1 149.7 996.8 145.9C998.5 142.1 1001.1 138.3 1002.5 134.5C1004 130.7 1004.8 126.3 1005.5 123C1006.2 119.8 1006.5 116.4 1006.7 115Z" fill="#0500ff" stroke="#000" stroke-width="1.3" stroke-linejoin="round"/>
<g fill="#1473ff"><circle cx="997.2" cy="171.1" r="4.7"/><circle cx="1016.9" cy="165.9" r="4.7"/><circle cx="1007.1" cy="194.7" r="4.7"/><circle cx="1007.1" cy="213.7" r="4.7"/><circle cx="1007.1" cy="231.1" r="4.7"/><circle cx="1016.9" cy="286.3" r="4.7"/><circle cx="997.2" cy="294.8" r="4.7"/><circle cx="1016.9" cy="300.9" r="4.7"/><circle cx="997.2" cy="308.5" r="4.7"/><circle cx="997.2" cy="324.5" r="4.7"/><circle cx="1016.9" cy="332.1" r="4.7"/><circle cx="997.2" cy="337.1" r="4.7"/><circle cx="977.5" cy="348.3" r="4.7"/><circle cx="1016.9" cy="349.3" r="4.7"/><circle cx="1036.6" cy="347.4" r="4.7"/><circle cx="997.2" cy="353.6" r="4.7"/><circle cx="1007.1" cy="366.7" r="4.7"/><circle cx="1007.1" cy="378.6" r="4.7"/></g>
<path d="M992.7 227H1019.2" stroke="#000" stroke-width="1.7" stroke-dasharray="2.9 1.9" fill="none"/>
<path d="M967.7 316.7H1046.7" stroke="#000" stroke-width="1.7" stroke-dasharray="6.3 2.3" fill="none"/>
<path d="M959 348.8H1055.2" stroke="#000" stroke-width="1.7" stroke-dasharray="2.9 1.9" fill="none"/>
<path d="M1156.8 251.3V268.1" stroke="#000" stroke-width="1.3"/>
<path d="M1156.9 266.1C1157.4 267.1 1158.7 269.8 1160.2 271.9C1161.7 274 1164.2 276.4 1166 278.7C1167.7 281 1169.5 283.3 1170.5 285.6C1171.6 287.9 1172.1 290.2 1172.4 292.5C1172.6 294.8 1171.6 297 1171.9 299.3C1172.2 301.6 1172.5 303.9 1174 306.2C1175.5 308.5 1178.2 310.8 1180.8 313.1C1183.5 315.4 1187.2 317.7 1190 319.9C1192.8 322.2 1196 324.5 1197.6 326.8C1199.2 329.1 1199.5 331.4 1199.6 333.7C1199.8 336 1198.9 338.3 1198.5 340.5C1198 342.8 1196.9 345.1 1196.9 347.4C1196.8 349.7 1197.1 352 1198 354.3C1198.9 356.6 1200.9 358.9 1202.1 361.2C1203.4 363.4 1204.7 365.9 1205.3 368C1206 370.1 1206.2 371.8 1206 373.7C1205.9 375.7 1205.3 377.4 1204.4 379.5C1203.5 381.6 1201.6 384.1 1200.8 386.3C1199.9 388.6 1199.4 390.9 1199.2 393.2C1198.9 395.5 1199.4 397.8 1199.4 400.1C1199.3 402.4 1199.3 405 1198.9 406.9C1198.5 408.9 1198.5 409.6 1196.9 411.5C1195.2 413.4 1192.1 416.1 1188.9 418.4C1185.6 420.7 1181 423 1177.4 425.3C1173.8 427.6 1170.1 429.8 1167.1 432.1C1164.1 434.4 1161.2 437.2 1159.5 439C1157.8 440.8 1157.3 442.1 1156.9 442.7L1156.7 442.7C1156.3 442.1 1155.8 440.8 1154.1 439C1152.4 437.2 1149.5 434.4 1146.5 432.1C1143.5 429.8 1139.8 427.6 1136.2 425.3C1132.6 423 1128 420.7 1124.7 418.4C1121.5 416.1 1118.4 413.4 1116.7 411.5C1115.1 409.6 1115.1 408.9 1114.7 406.9C1114.3 405 1114.3 402.4 1114.2 400.1C1114.2 397.8 1114.7 395.5 1114.4 393.2C1114.2 390.9 1113.7 388.6 1112.8 386.3C1112 384.1 1110.1 381.6 1109.2 379.5C1108.3 377.4 1107.7 375.7 1107.6 373.7C1107.4 371.8 1107.6 370.1 1108.3 368C1108.9 365.9 1110.2 363.4 1111.5 361.2C1112.7 358.9 1114.7 356.6 1115.6 354.3C1116.5 352 1116.8 349.7 1116.7 347.4C1116.7 345.1 1115.6 342.8 1115.1 340.5C1114.7 338.3 1113.8 336 1114 333.7C1114.1 331.4 1114.4 329.1 1116 326.8C1117.6 324.5 1120.8 322.2 1123.6 319.9C1126.4 317.7 1130.1 315.4 1132.8 313.1C1135.4 310.8 1138.1 308.5 1139.6 306.2C1141.1 303.9 1141.4 301.6 1141.7 299.3C1142 297 1141 294.8 1141.2 292.5C1141.5 290.2 1142 287.9 1143.1 285.6C1144.1 283.3 1145.9 281 1147.6 278.7C1149.4 276.4 1151.9 274 1153.4 271.9C1154.9 269.8 1156.2 267.1 1156.7 266.1Z" fill="#ff0000" stroke="#000" stroke-width="1.3" stroke-linejoin="round"/>
<g fill="#bf0000"><circle cx="1156.8" cy="293.8" r="4.7"/><circle cx="1146.7" cy="323.6" r="4.7"/><circle cx="1166.7" cy="333" r="4.7"/><circle cx="1146.7" cy="337.1" r="4.7"/><circle cx="1156.8" cy="353.1" r="4.7"/><circle cx="1156.8" cy="363.4" r="4.7"/><circle cx="1146.7" cy="374.2" r="4.7"/><circle cx="1166.7" cy="375.6" r="4.7"/><circle cx="1156.8" cy="388.6" r="4.7"/><circle cx="1146.7" cy="402.4" r="4.7"/><circle cx="1166.7" cy="408.6" r="4.7"/><circle cx="1146.7" cy="417.7" r="4.7"/></g>
<path d="M1115.4 334.1H1197.8" stroke="#000" stroke-width="1.7" stroke-dasharray="2.9 1.9" fill="none"/>
<path d="M1109 368.9H1205.1" stroke="#000" stroke-width="1.7" stroke-dasharray="6.3 2.3" fill="none"/>
<path d="M1115.4 399.6H1197.8" stroke="#000" stroke-width="1.7" stroke-dasharray="2.9 1.9" fill="none"/>
<text><tspan x="801" y="48.3" font-family="'Liberation Sans', sans-serif" font-size="25.8" font-weight="bold" textLength="77.6" lengthAdjust="spacingAndGlyphs">2.0×10</tspan><tspan x="878.6" y="38.3" font-family="'Liberation Sans', sans-serif" font-size="19" textLength="11.6" lengthAdjust="spacingAndGlyphs">7</tspan></text>
<text><tspan x="800.2" y="149.5" font-family="'Liberation Sans', sans-serif" font-size="25.8" font-weight="bold" textLength="78.4" lengthAdjust="spacingAndGlyphs">1.5×10</tspan><tspan x="878.6" y="139.5" font-family="'Liberation Sans', sans-serif" font-size="19" textLength="11.6" lengthAdjust="spacingAndGlyphs">7</tspan></text>
<text><tspan x="800.2" y="250.7" font-family="'Liberation Sans', sans-serif" font-size="25.8" font-weight="bold" textLength="78.4" lengthAdjust="spacingAndGlyphs">1.0×10</tspan><tspan x="878.6" y="240.7" font-family="'Liberation Sans', sans-serif" font-size="19" textLength="11.6" lengthAdjust="spacingAndGlyphs">7</tspan></text>
<text><tspan x="801.1" y="351.9" font-family="'Liberation Sans', sans-serif" font-size="25.8" font-weight="bold" textLength="77.5" lengthAdjust="spacingAndGlyphs">5.0×10</tspan><tspan x="878.6" y="341.9" font-family="'Liberation Sans', sans-serif" font-size="19" textLength="11.5" lengthAdjust="spacingAndGlyphs">6</tspan></text>
<text x="854" y="451.7" font-family="'Liberation Sans', sans-serif" font-size="25.8" font-weight="bold" textLength="35.4" lengthAdjust="spacingAndGlyphs">0.0</text>
<text x="1041.7" y="38" font-family="'Liberation Sans', sans-serif" font-size="28" textLength="80.4" lengthAdjust="spacingAndGlyphs">0.0037</text>
<text transform="rotate(-90)"><tspan x="-374.5" y="786" font-family="'Liberation Sans', sans-serif" font-size="29.3" font-weight="bold" textLength="199.7" lengthAdjust="spacingAndGlyphs">Total cap area </tspan><tspan x="-175.9" y="786" font-family="'Liberation Sans', sans-serif" font-size="29.3" font-weight="bold" textLength="58.4" lengthAdjust="spacingAndGlyphs">(µm</tspan><tspan x="-120.3" y="776.7" font-family="'Liberation Sans', sans-serif" font-size="19" font-weight="bold" textLength="11.2" lengthAdjust="spacingAndGlyphs">2</tspan><tspan x="-107.6" y="786" font-family="'Liberation Sans', sans-serif" font-size="29.3" font-weight="bold" textLength="8.7" lengthAdjust="spacingAndGlyphs">)</tspan></text>
<text x="934" y="487.7" font-family="'Liberation Sans', sans-serif" font-size="24.4" font-weight="bold" textLength="135.1" lengthAdjust="spacingAndGlyphs">No diabetes</text>
<text x="1087.1" y="487.1" font-family="'Liberation Sans', sans-serif" font-size="24.4" font-weight="bold" textLength="175" lengthAdjust="spacingAndGlyphs">Type 2 diabetes</text>
<g stroke="#000" stroke-width="3.6" fill="none" stroke-linecap="butt">
<path d="M1390.5 30.9V443.7"/>
<path d="M1376.8 441.9H1741"/>
<path d="M1376.8 32.7H1390.5"/>
<path d="M1376.8 169.4H1390.5"/>
<path d="M1376.8 305.7H1390.5"/>
<path d="M1490.6 441.9V455.5"/>
<path d="M1641.2 441.9V455.5"/>
</g>
<path d="M1490.6 56V36.6H1641.2V245.3" fill="none" stroke="#000" stroke-width="3.6" stroke-linejoin="miter" stroke-linecap="round"/>
<path d="M1490.6 75.6V102.7" stroke="#000" stroke-width="1.3"/>
<path d="M1490.6 417V432.7" stroke="#000" stroke-width="1.3"/>
<path d="M1490.7 100.7C1491.2 103 1492.5 110.3 1494 114.5C1495.5 118.7 1497.6 122.1 1499.8 125.9C1501.9 129.7 1505.1 133.6 1507.1 137.4C1509.1 141.2 1510.7 145 1511.7 148.8C1512.7 152.6 1513 156.5 1513 160.3C1513 164.1 1512 167.9 1511.7 171.7C1511.3 175.5 1510.5 179.4 1510.7 183.2C1511 187 1512 190.8 1513 194.6C1514.1 198.4 1516 202.3 1516.9 206.1C1517.9 209.9 1518.3 213.7 1518.8 217.5C1519.2 221.3 1518.8 225.1 1519.7 229C1520.5 232.8 1521.8 236.6 1523.8 240.4C1525.8 244.2 1529.4 248 1531.8 251.9C1534.2 255.7 1536.9 260.3 1538.2 263.3C1539.6 266.4 1539.8 267.9 1539.8 270.2C1539.8 272.5 1539.8 274.4 1538.2 277C1536.7 279.7 1533.5 282.8 1530.7 286.2C1527.9 289.6 1524.2 293.8 1521.5 297.7C1518.8 301.5 1516.1 305.3 1514.6 309.1C1513.2 312.9 1512.6 316.7 1512.6 320.5C1512.6 324.4 1513.7 328.2 1514.6 332C1515.6 335.8 1517.3 339.6 1518.1 343.4C1518.8 347.3 1519.5 351.1 1519.2 354.9C1518.9 358.7 1518.2 362.5 1516.2 366.3C1514.3 370.2 1510.5 374 1507.8 377.8C1505 381.6 1502 385.4 1499.8 389.2C1497.5 393.1 1495.4 396.9 1494 400.7C1492.7 404.5 1492.1 409.1 1491.5 412.1C1491 415.2 1490.8 417.9 1490.7 419L1490.5 419C1490.4 417.9 1490.2 415.2 1489.7 412.1C1489.1 409.1 1488.5 404.5 1487.2 400.7C1485.8 396.9 1483.7 393.1 1481.4 389.2C1479.2 385.4 1476.2 381.6 1473.4 377.8C1470.7 374 1466.9 370.2 1465 366.3C1463 362.5 1462.3 358.7 1462 354.9C1461.7 351.1 1462.4 347.3 1463.1 343.4C1463.9 339.6 1465.6 335.8 1466.6 332C1467.5 328.2 1468.6 324.4 1468.6 320.5C1468.6 316.7 1468 312.9 1466.6 309.1C1465.1 305.3 1462.4 301.5 1459.7 297.7C1457 293.8 1453.3 289.6 1450.5 286.2C1447.7 282.8 1444.5 279.7 1443 277C1441.4 274.4 1441.4 272.5 1441.4 270.2C1441.4 267.9 1441.6 266.4 1443 263.3C1444.3 260.3 1447 255.7 1449.4 251.9C1451.8 248 1455.4 244.2 1457.4 240.4C1459.4 236.6 1460.7 232.8 1461.5 229C1462.4 225.1 1462 221.3 1462.4 217.5C1462.9 213.7 1463.3 209.9 1464.3 206.1C1465.2 202.3 1467.1 198.4 1468.2 194.6C1469.2 190.8 1470.2 187 1470.5 183.2C1470.7 179.4 1469.9 175.5 1469.5 171.7C1469.2 167.9 1468.2 164.1 1468.2 160.3C1468.2 156.5 1468.5 152.6 1469.5 148.8C1470.5 145 1472.1 141.2 1474.1 137.4C1476.1 133.6 1479.3 129.7 1481.4 125.9C1483.6 122.1 1485.7 118.7 1487.2 114.5C1488.7 110.3 1490 103 1490.5 100.7Z" fill="#0500ff" stroke="#000" stroke-width="1.3" stroke-linejoin="round"/>
<g fill="#1473ff"><circle cx="1490.6" cy="146.5" r="4.7"/><circle cx="1490.6" cy="156.8" r="4.7"/><circle cx="1490.6" cy="171" r="4.7"/><circle cx="1480.7" cy="210.2" r="4.7"/><circle cx="1500.4" cy="208.6" r="4.7"/><circle cx="1490.6" cy="220.5" r="4.7"/><circle cx="1490.6" cy="246.6" r="4.7"/><circle cx="1470.9" cy="262.6" r="4.7"/><circle cx="1490.6" cy="269" r="4.7"/><circle cx="1510.3" cy="266.5" r="4.7"/><circle cx="1470.9" cy="275.7" r="4.7"/><circle cx="1510.3" cy="277" r="4.7"/><circle cx="1490.6" cy="289.6" r="4.7"/><circle cx="1490.6" cy="309.8" r="4.7"/><circle cx="1490.6" cy="332" r="4.7"/><circle cx="1470.9" cy="362.2" r="4.7"/><circle cx="1490.6" cy="357.2" r="4.7"/><circle cx="1510.3" cy="359.9" r="4.7"/></g>
<path d="M1463.8 210.2H1517.6" stroke="#000" stroke-width="1.7" stroke-dasharray="2.9 1.9" fill="none"/>
<path d="M1442 267.9H1538.9" stroke="#000" stroke-width="1.7" stroke-dasharray="6.3 2.3" fill="none"/>
<path d="M1469.5 315.5H1511.4" stroke="#000" stroke-width="1.7" stroke-dasharray="2.9 1.9" fill="none"/>
<path d="M1641.2 264.5V279" stroke="#000" stroke-width="1.3"/>
<path d="M1641.3 277C1641.5 277.6 1641.4 279 1642.6 280.5C1643.7 282 1645.6 284.1 1648.1 286.2C1650.5 288.3 1654 290.8 1657.2 293.1C1660.5 295.4 1664.7 297.7 1667.5 299.9C1670.4 302.2 1672.5 304.5 1674.4 306.8C1676.3 309.1 1677.9 311.4 1679 313.7C1680 316 1680 318.3 1680.6 320.5C1681.2 322.8 1681.3 325.1 1682.4 327.4C1683.5 329.7 1685.7 332 1687 334.3C1688.3 336.6 1689.9 339.2 1690.4 341.2C1691 343.1 1691.2 343.8 1690.4 345.7C1689.7 347.6 1688.1 350.3 1685.8 352.6C1683.6 354.9 1679.9 357.2 1676.7 359.5C1673.4 361.8 1669.8 364.1 1666.4 366.3C1663 368.6 1659.1 370.9 1656.1 373.2C1653 375.5 1650.1 377.8 1648.1 380.1C1646 382.4 1644.6 384.7 1643.9 386.9C1643.3 389.2 1643.1 391.5 1643.9 393.8C1644.8 396.1 1647 398.4 1649.2 400.7C1651.4 403 1655 405.3 1657.2 407.6C1659.4 409.8 1661.6 412.5 1662.5 414.4C1663.4 416.3 1663.6 417.1 1662.5 419C1661.4 420.9 1658.5 423.6 1656.1 425.9C1653.7 428.2 1650.2 430.6 1648.1 432.7C1645.9 434.8 1644.2 436.9 1643 438.5C1641.9 440 1641.6 441.3 1641.3 441.9L1641.1 441.9C1640.8 441.3 1640.5 440 1639.4 438.5C1638.2 436.9 1636.5 434.8 1634.3 432.7C1632.2 430.6 1628.7 428.2 1626.3 425.9C1623.9 423.6 1621 420.9 1619.9 419C1618.8 417.1 1619 416.3 1619.9 414.4C1620.8 412.5 1623 409.8 1625.2 407.6C1627.4 405.3 1631 403 1633.2 400.7C1635.4 398.4 1637.6 396.1 1638.5 393.8C1639.3 391.5 1639.1 389.2 1638.5 386.9C1637.8 384.7 1636.4 382.4 1634.3 380.1C1632.3 377.8 1629.4 375.5 1626.3 373.2C1623.3 370.9 1619.4 368.6 1616 366.3C1612.6 364.1 1609 361.8 1605.7 359.5C1602.5 357.2 1598.8 354.9 1596.6 352.6C1594.3 350.3 1592.7 347.6 1592 345.7C1591.2 343.8 1591.4 343.1 1592 341.2C1592.5 339.2 1594.1 336.6 1595.4 334.3C1596.7 332 1598.9 329.7 1600 327.4C1601.1 325.1 1601.2 322.8 1601.8 320.5C1602.4 318.3 1602.4 316 1603.4 313.7C1604.5 311.4 1606.1 309.1 1608 306.8C1609.9 304.5 1612 302.2 1614.9 299.9C1617.7 297.7 1621.9 295.4 1625.2 293.1C1628.4 290.8 1631.9 288.3 1634.3 286.2C1636.8 284.1 1638.7 282 1639.8 280.5C1641 279 1640.9 277.6 1641.1 277Z" fill="#ff0000" stroke="#000" stroke-width="1.3" stroke-linejoin="round"/>
<g fill="#bf0000"><circle cx="1660.7" cy="302.7" r="4.7"/><circle cx="1641.2" cy="310.9" r="4.7"/><circle cx="1621.3" cy="318.7" r="4.7"/><circle cx="1641.2" cy="321.9" r="4.7"/><circle cx="1621.3" cy="336.1" r="4.7"/><circle cx="1641.2" cy="341.2" r="4.7"/><circle cx="1660.7" cy="345.7" r="4.7"/><circle cx="1621.3" cy="348.5" r="4.7"/><circle cx="1641.2" cy="355.6" r="4.7"/><circle cx="1641.2" cy="367.5" r="4.7"/><circle cx="1650.8" cy="414" r="4.7"/><circle cx="1631.1" cy="419" r="4.7"/></g>
<path d="M1603.4 319.4H1679" stroke="#000" stroke-width="1.7" stroke-dasharray="2.9 1.9" fill="none"/>
<path d="M1593.1 343.4H1689.3" stroke="#000" stroke-width="1.7" stroke-dasharray="6.3 2.3" fill="none"/>
<path d="M1617.2 364.1H1665.3" stroke="#000" stroke-width="1.7" stroke-dasharray="2.9 1.9" fill="none"/>
<text x="1344.2" y="41.6" font-family="'Liberation Sans', sans-serif" font-size="26" font-weight="bold" textLength="28.1" lengthAdjust="spacingAndGlyphs">60</text>
<text x="1344" y="178.1" font-family="'Liberation Sans', sans-serif" font-size="26" font-weight="bold" textLength="28.3" lengthAdjust="spacingAndGlyphs">40</text>
<text x="1344.2" y="314.5" font-family="'Liberation Sans', sans-serif" font-size="26" font-weight="bold" textLength="28.1" lengthAdjust="spacingAndGlyphs">20</text>
<text x="1357.9" y="450.7" font-family="'Liberation Sans', sans-serif" font-size="26" font-weight="bold" textLength="14.4" lengthAdjust="spacingAndGlyphs">0</text>
<text x="1524.7" y="20" font-family="'Liberation Sans', sans-serif" font-size="28" textLength="81.6" lengthAdjust="spacingAndGlyphs">0.0008</text>
<text transform="translate(1324 402.1) rotate(-90)" x="0" y="0" font-family="'Liberation Sans', sans-serif" font-size="28" font-weight="bold" textLength="329" lengthAdjust="spacingAndGlyphs">Cap % of total plaque area</text>
<text x="1420.1" y="487.3" font-family="'Liberation Sans', sans-serif" font-size="24.4" font-weight="bold" textLength="132.7" lengthAdjust="spacingAndGlyphs">No diabetes</text>
<text x="1573.3" y="486.7" font-family="'Liberation Sans', sans-serif" font-size="24.4" font-weight="bold" textLength="173.3" lengthAdjust="spacingAndGlyphs">Type 2 diabetes</text>
<!-- panel_bc -->
<g stroke="#000" stroke-width="4" fill="none" stroke-linecap="butt">
<path d="M231.4 626.9V1114.2"/>
<path d="M215.5 1112.2H741"/>
<path d="M215.5 628.9H231.4"/>
<path d="M215.5 725H231.4"/>
<path d="M215.5 821.8H231.4"/>
<path d="M215.5 918.3H231.4"/>
<path d="M215.5 1015.1H231.4"/>
<path d="M376 1112.2V1127.3"/>
<path d="M594.9 1112.2V1127.3"/>
</g>
<path d="M376.3 694.9V672.3H594.9V864.2" fill="none" stroke="#000" stroke-width="4" stroke-linejoin="miter" stroke-linecap="round"/>
<path d="M375.9 716V735" stroke="#000" stroke-width="2"/>
<path d="M376.3 733C376.7 735.1 378.1 741.8 378.8 745.8C379.5 749.8 380.2 753.4 380.3 757.2C380.4 761 379.8 764.9 379.3 768.7C378.8 772.5 377.7 776.3 377.3 780.1C376.9 783.9 376.6 787.8 376.8 791.6C376.9 795.4 377.8 799.2 378.2 803C378.6 806.8 378.9 810.7 379.3 814.5C379.7 818.3 380.5 822.1 380.7 825.9C380.9 829.7 380.8 833.6 380.3 837.4C379.8 841.2 378.2 845 377.6 848.8C377 852.6 376.5 856.5 376.8 860.3C377.1 864.1 378.4 867.9 379.3 871.7C380.2 875.5 381.1 879.4 382.2 883.2C383.2 887 384.4 890.8 385.6 894.6C386.8 898.4 388.3 902.3 389.6 906.1C390.8 909.9 392.4 914.7 393.1 917.5C393.8 920.3 393.1 920.1 394 922.9C394.9 925.7 396.3 930.5 398.6 934.3C400.9 938.1 405 942 407.7 945.8C410.4 949.6 412.9 953.8 414.6 957.2C416.3 960.6 416.1 963.5 418 966.4C419.9 969.3 422.6 971.7 426 974.4C429.4 977.1 435.3 979.9 438.6 982.4C441.8 984.9 443.9 986.8 445.5 989.3C447.1 991.8 448 994.6 448 997.3C448 1000 447.4 1002.4 445.5 1005.3C443.6 1008.2 438.7 1011.8 436.3 1014.5C433.9 1017.2 432.3 1019.1 431.2 1021.4C430.1 1023.7 429.7 1025.5 429.5 1028.2C429.3 1030.9 430 1034 430.1 1037.4C430.2 1040.8 430.5 1045 430.1 1048.8C429.7 1052.6 428.8 1057.4 427.8 1060.3C426.7 1063.2 426.4 1063.1 423.8 1066C421.2 1068.9 416.1 1073.7 412.3 1077.5C408.5 1081.3 404.3 1085.7 400.9 1088.9C397.5 1092.1 394.6 1094.4 391.7 1096.9C388.8 1099.4 386 1101.7 383.7 1103.8C381.4 1105.9 379.1 1108.2 377.9 1109.5C376.6 1110.8 376.5 1111.4 376.2 1111.8L375.6 1111.8C375.3 1111.4 375.1 1110.8 373.9 1109.5C372.6 1108.2 370.4 1105.9 368.1 1103.8C365.8 1101.7 363 1099.4 360.1 1096.9C357.2 1094.4 354.3 1092.1 350.9 1088.9C347.5 1085.7 343.3 1081.3 339.5 1077.5C335.7 1073.7 330.6 1068.9 328 1066C325.4 1063.1 325.1 1063.2 324 1060.3C322.9 1057.4 322.1 1052.6 321.7 1048.8C321.3 1045 321.6 1040.8 321.7 1037.4C321.8 1034 322.5 1030.9 322.3 1028.2C322.1 1025.5 321.7 1023.7 320.6 1021.4C319.5 1019.1 317.9 1017.2 315.5 1014.5C313.1 1011.8 308.2 1008.2 306.3 1005.3C304.3 1002.4 303.8 1000 303.8 997.3C303.8 994.6 304.7 991.8 306.3 989.3C307.9 986.8 309.9 984.9 313.2 982.4C316.4 979.9 322.4 977.1 325.8 974.4C329.2 971.7 331.9 969.3 333.8 966.4C335.7 963.5 335.5 960.6 337.2 957.2C338.9 953.8 341.4 949.6 344.1 945.8C346.8 942 350.9 938.1 353.2 934.3C355.5 930.5 356.9 925.7 357.8 922.9C358.7 920.1 358 920.3 358.7 917.5C359.4 914.7 360.9 909.9 362.2 906.1C363.4 902.3 365 898.4 366.2 894.6C367.4 890.8 368.5 887 369.6 883.2C370.6 879.4 371.6 875.5 372.5 871.7C373.4 867.9 374.7 864.1 375 860.3C375.3 856.5 374.8 852.6 374.2 848.8C373.6 845 372 841.2 371.5 837.4C371 833.6 370.9 829.7 371.1 825.9C371.3 822.1 372.1 818.3 372.5 814.5C372.9 810.7 373.2 806.8 373.6 803C374 799.2 374.9 795.4 375 791.6C375.1 787.8 374.9 783.9 374.5 780.1C374.1 776.3 373 772.5 372.5 768.7C372 764.9 371.4 761 371.5 757.2C371.6 753.4 372.3 749.8 373 745.8C373.7 741.8 375.1 735.1 375.5 733Z" fill="#0500ff" stroke="#000" stroke-width="2" stroke-linejoin="round"/>
<g fill="#0f55ff"><circle cx="380.2" cy="756.9" r="5.5"/><circle cx="372.5" cy="767.3" r="5.5"/><circle cx="375.9" cy="809.3" r="5.5"/><circle cx="372.5" cy="834.9" r="5.5"/><circle cx="380.2" cy="834.5" r="5.5"/><circle cx="375.9" cy="877.2" r="5.5"/><circle cx="388" cy="888.7" r="5.5"/><circle cx="380.2" cy="895.8" r="5.5"/><circle cx="372.5" cy="899.4" r="5.5"/><circle cx="348.5" cy="907.2" r="5.5"/><circle cx="395.6" cy="907.4" r="5.5"/><circle cx="404.2" cy="917.5" r="5.5"/><circle cx="364.1" cy="919.2" r="5.5"/><circle cx="395.6" cy="919.2" r="5.5"/><circle cx="348.5" cy="926.6" r="5.5"/><circle cx="332.7" cy="953.6" r="5.5"/><circle cx="427.7" cy="964.1" r="5.5"/><circle cx="309.2" cy="980.9" r="5.5"/><circle cx="443.7" cy="983" r="5.5"/><circle cx="309.2" cy="1000.7" r="5.5"/><circle cx="443.7" cy="1000.7" r="5.5"/><circle cx="435.5" cy="1030.3" r="5.5"/><circle cx="316.6" cy="1059.9" r="5.5"/><circle cx="435.5" cy="1062" r="5.5"/><circle cx="324" cy="1060" r="5.5"/><circle cx="427" cy="1061" r="5.5"/><circle cx="375.9" cy="923.6" r="5.5"/><circle cx="368" cy="925.1" r="5.5"/><circle cx="391.7" cy="923.2" r="5.5"/><circle cx="360.1" cy="923.1" r="5.5"/><circle cx="379.8" cy="928.5" r="5.5"/><circle cx="371.9" cy="929.9" r="5.5"/><circle cx="364" cy="929.1" r="5.5"/><circle cx="368" cy="935" r="5.5"/><circle cx="360.1" cy="936.8" r="5.5"/><circle cx="379.8" cy="939.2" r="5.5"/><circle cx="371.9" cy="939.8" r="5.5"/><circle cx="364" cy="940.9" r="5.5"/><circle cx="356.1" cy="940.8" r="5.5"/><circle cx="375.9" cy="944" r="5.5"/><circle cx="383.8" cy="946.5" r="5.5"/><circle cx="368" cy="945.1" r="5.5"/><circle cx="391.7" cy="945.6" r="5.5"/><circle cx="360.1" cy="947" r="5.5"/><circle cx="352.2" cy="946.1" r="5.5"/><circle cx="379.8" cy="952.5" r="5.5"/><circle cx="387.8" cy="952.9" r="5.5"/><circle cx="364" cy="950.7" r="5.5"/><circle cx="356.1" cy="951" r="5.5"/><circle cx="403.5" cy="951.7" r="5.5"/><circle cx="375.9" cy="957.7" r="5.5"/><circle cx="383.8" cy="957" r="5.5"/><circle cx="368" cy="956.5" r="5.5"/><circle cx="391.7" cy="957.6" r="5.5"/><circle cx="399.6" cy="956.9" r="5.5"/><circle cx="352.2" cy="957" r="5.5"/><circle cx="371.9" cy="960.9" r="5.5"/><circle cx="364" cy="961.2" r="5.5"/><circle cx="395.6" cy="959.9" r="5.5"/><circle cx="356.1" cy="962.5" r="5.5"/><circle cx="403.5" cy="960.4" r="5.5"/><circle cx="348.2" cy="962.9" r="5.5"/><circle cx="411.4" cy="961.2" r="5.5"/><circle cx="340.3" cy="962.9" r="5.5"/><circle cx="368" cy="966.3" r="5.5"/><circle cx="391.7" cy="968.1" r="5.5"/><circle cx="399.6" cy="965.3" r="5.5"/><circle cx="352.2" cy="965.5" r="5.5"/><circle cx="407.5" cy="967" r="5.5"/><circle cx="344.3" cy="964.6" r="5.5"/><circle cx="379.8" cy="971.3" r="5.5"/><circle cx="371.9" cy="973.6" r="5.5"/><circle cx="364" cy="972.3" r="5.5"/><circle cx="356.1" cy="973.4" r="5.5"/><circle cx="340.3" cy="971.4" r="5.5"/><circle cx="419.3" cy="972.3" r="5.5"/><circle cx="332.4" cy="970.1" r="5.5"/><circle cx="375.9" cy="975.6" r="5.5"/><circle cx="383.8" cy="975.2" r="5.5"/><circle cx="368" cy="975.6" r="5.5"/><circle cx="391.7" cy="976.5" r="5.5"/><circle cx="360.1" cy="978.5" r="5.5"/><circle cx="399.6" cy="975.6" r="5.5"/><circle cx="352.2" cy="976.4" r="5.5"/><circle cx="407.5" cy="975.5" r="5.5"/><circle cx="336.4" cy="976.9" r="5.5"/><circle cx="423.3" cy="975.4" r="5.5"/><circle cx="328.5" cy="976.1" r="5.5"/><circle cx="371.9" cy="980.3" r="5.5"/><circle cx="364" cy="980.8" r="5.5"/><circle cx="395.6" cy="980.3" r="5.5"/><circle cx="356.1" cy="984.1" r="5.5"/><circle cx="411.4" cy="981.7" r="5.5"/><circle cx="340.3" cy="983.3" r="5.5"/><circle cx="419.3" cy="983.3" r="5.5"/><circle cx="332.4" cy="981.1" r="5.5"/><circle cx="368" cy="987.5" r="5.5"/><circle cx="391.7" cy="985.5" r="5.5"/><circle cx="360.1" cy="986.5" r="5.5"/><circle cx="399.6" cy="988.2" r="5.5"/><circle cx="407.5" cy="989.1" r="5.5"/><circle cx="336.4" cy="986.3" r="5.5"/><circle cx="423.3" cy="986.2" r="5.5"/><circle cx="328.5" cy="987.9" r="5.5"/><circle cx="439.1" cy="988" r="5.5"/><circle cx="379.8" cy="993.2" r="5.5"/><circle cx="395.6" cy="991.3" r="5.5"/><circle cx="403.5" cy="993.8" r="5.5"/><circle cx="411.4" cy="992.2" r="5.5"/><circle cx="332.4" cy="991.1" r="5.5"/><circle cx="427.2" cy="994.2" r="5.5"/><circle cx="435.1" cy="993.9" r="5.5"/><circle cx="308.8" cy="992.8" r="5.5"/><circle cx="375.9" cy="995.9" r="5.5"/><circle cx="391.7" cy="999.5" r="5.5"/><circle cx="360.1" cy="999.3" r="5.5"/><circle cx="352.2" cy="996.8" r="5.5"/><circle cx="407.5" cy="996.8" r="5.5"/><circle cx="344.3" cy="996.8" r="5.5"/><circle cx="415.4" cy="996.3" r="5.5"/><circle cx="423.3" cy="997.6" r="5.5"/><circle cx="328.5" cy="999.4" r="5.5"/><circle cx="431.2" cy="999.5" r="5.5"/><circle cx="320.6" cy="997.9" r="5.5"/><circle cx="439.1" cy="995.9" r="5.5"/><circle cx="312.7" cy="996.5" r="5.5"/><circle cx="379.8" cy="1004.2" r="5.5"/><circle cx="371.9" cy="1002.9" r="5.5"/><circle cx="364" cy="1002.3" r="5.5"/><circle cx="395.6" cy="1003.2" r="5.5"/><circle cx="403.5" cy="1003.2" r="5.5"/><circle cx="348.2" cy="1002.1" r="5.5"/><circle cx="340.3" cy="1003.2" r="5.5"/><circle cx="427.2" cy="1003.5" r="5.5"/><circle cx="324.5" cy="1003" r="5.5"/><circle cx="316.6" cy="1003.1" r="5.5"/><circle cx="443" cy="1004.8" r="5.5"/><circle cx="368" cy="1008.4" r="5.5"/><circle cx="399.6" cy="1006.7" r="5.5"/><circle cx="352.2" cy="1006.5" r="5.5"/><circle cx="407.5" cy="1006.5" r="5.5"/><circle cx="423.3" cy="1009.1" r="5.5"/><circle cx="431.2" cy="1009.7" r="5.5"/><circle cx="439.1" cy="1010" r="5.5"/><circle cx="312.7" cy="1008.1" r="5.5"/><circle cx="387.8" cy="1013.1" r="5.5"/><circle cx="364" cy="1012.8" r="5.5"/><circle cx="395.6" cy="1012.7" r="5.5"/><circle cx="403.5" cy="1013.6" r="5.5"/><circle cx="348.2" cy="1011.5" r="5.5"/><circle cx="411.4" cy="1013.9" r="5.5"/><circle cx="340.3" cy="1011.7" r="5.5"/><circle cx="324.5" cy="1012.5" r="5.5"/><circle cx="375.9" cy="1019.7" r="5.5"/><circle cx="383.8" cy="1017.1" r="5.5"/><circle cx="368" cy="1020.2" r="5.5"/><circle cx="360.1" cy="1017.2" r="5.5"/><circle cx="352.2" cy="1019.4" r="5.5"/><circle cx="407.5" cy="1016.8" r="5.5"/><circle cx="415.4" cy="1016.9" r="5.5"/><circle cx="379.8" cy="1025.2" r="5.5"/><circle cx="371.9" cy="1025.3" r="5.5"/><circle cx="387.8" cy="1023.2" r="5.5"/><circle cx="364" cy="1025.5" r="5.5"/><circle cx="395.6" cy="1022.3" r="5.5"/><circle cx="356.1" cy="1022.8" r="5.5"/><circle cx="403.5" cy="1022.4" r="5.5"/><circle cx="348.2" cy="1022.6" r="5.5"/><circle cx="411.4" cy="1023" r="5.5"/><circle cx="419.3" cy="1023.8" r="5.5"/><circle cx="332.4" cy="1023.2" r="5.5"/><circle cx="427.2" cy="1022.8" r="5.5"/><circle cx="324.5" cy="1024.7" r="5.5"/><circle cx="375.9" cy="1027.8" r="5.5"/><circle cx="383.8" cy="1030.7" r="5.5"/><circle cx="368" cy="1030.3" r="5.5"/><circle cx="391.7" cy="1029" r="5.5"/><circle cx="399.6" cy="1029" r="5.5"/><circle cx="344.3" cy="1030.3" r="5.5"/><circle cx="423.3" cy="1028.4" r="5.5"/><circle cx="328.5" cy="1027.5" r="5.5"/><circle cx="379.8" cy="1035.2" r="5.5"/><circle cx="371.9" cy="1032.9" r="5.5"/><circle cx="387.8" cy="1035.6" r="5.5"/><circle cx="356.1" cy="1033.2" r="5.5"/><circle cx="403.5" cy="1034" r="5.5"/><circle cx="348.2" cy="1034" r="5.5"/><circle cx="411.4" cy="1036" r="5.5"/><circle cx="419.3" cy="1033.2" r="5.5"/><circle cx="375.9" cy="1038.8" r="5.5"/><circle cx="383.8" cy="1038.9" r="5.5"/><circle cx="368" cy="1039.4" r="5.5"/><circle cx="391.7" cy="1039.4" r="5.5"/><circle cx="360.1" cy="1038.5" r="5.5"/><circle cx="399.6" cy="1039" r="5.5"/><circle cx="352.2" cy="1037.5" r="5.5"/><circle cx="407.5" cy="1038.3" r="5.5"/><circle cx="344.3" cy="1039.5" r="5.5"/><circle cx="379.8" cy="1043.9" r="5.5"/><circle cx="387.8" cy="1045.5" r="5.5"/><circle cx="395.6" cy="1045.9" r="5.5"/><circle cx="340.3" cy="1044.7" r="5.5"/><circle cx="419.3" cy="1045.9" r="5.5"/><circle cx="383.8" cy="1051.4" r="5.5"/><circle cx="360.1" cy="1047.9" r="5.5"/><circle cx="399.6" cy="1049.2" r="5.5"/><circle cx="352.2" cy="1051.1" r="5.5"/><circle cx="407.5" cy="1050.3" r="5.5"/><circle cx="336.4" cy="1047.8" r="5.5"/><circle cx="379.8" cy="1055.1" r="5.5"/><circle cx="387.8" cy="1055.9" r="5.5"/><circle cx="364" cy="1053.3" r="5.5"/><circle cx="395.6" cy="1055.9" r="5.5"/><circle cx="356.1" cy="1056" r="5.5"/><circle cx="348.2" cy="1054.5" r="5.5"/><circle cx="411.4" cy="1055.7" r="5.5"/><circle cx="419.3" cy="1055.6" r="5.5"/><circle cx="332.4" cy="1053.6" r="5.5"/><circle cx="375.9" cy="1061.2" r="5.5"/><circle cx="383.8" cy="1060.5" r="5.5"/><circle cx="368" cy="1058.4" r="5.5"/><circle cx="391.7" cy="1060.9" r="5.5"/><circle cx="352.2" cy="1060.3" r="5.5"/><circle cx="407.5" cy="1060.1" r="5.5"/><circle cx="344.3" cy="1061.8" r="5.5"/><circle cx="415.4" cy="1062.1" r="5.5"/><circle cx="423.3" cy="1060" r="5.5"/><circle cx="371.9" cy="1064.5" r="5.5"/><circle cx="387.8" cy="1067.2" r="5.5"/><circle cx="364" cy="1065.7" r="5.5"/><circle cx="395.6" cy="1065.5" r="5.5"/><circle cx="403.5" cy="1066.7" r="5.5"/><circle cx="348.2" cy="1066.9" r="5.5"/><circle cx="340.3" cy="1067" r="5.5"/><circle cx="419.3" cy="1063.5" r="5.5"/><circle cx="332.4" cy="1065.4" r="5.5"/><circle cx="375.9" cy="1069.8" r="5.5"/><circle cx="383.8" cy="1070" r="5.5"/><circle cx="368" cy="1072" r="5.5"/><circle cx="391.7" cy="1071.6" r="5.5"/><circle cx="399.6" cy="1072.3" r="5.5"/><circle cx="344.3" cy="1070.1" r="5.5"/><circle cx="415.4" cy="1072.6" r="5.5"/><circle cx="336.4" cy="1070" r="5.5"/><circle cx="379.8" cy="1074.9" r="5.5"/><circle cx="371.9" cy="1074.2" r="5.5"/><circle cx="364" cy="1077.5" r="5.5"/><circle cx="395.6" cy="1074.9" r="5.5"/><circle cx="356.1" cy="1074.6" r="5.5"/><circle cx="403.5" cy="1077.6" r="5.5"/><circle cx="360.1" cy="1081.9" r="5.5"/><circle cx="399.6" cy="1081.9" r="5.5"/><circle cx="352.2" cy="1082" r="5.5"/><circle cx="371.9" cy="1084.4" r="5.5"/><circle cx="364" cy="1086.1" r="5.5"/><circle cx="395.6" cy="1085.4" r="5.5"/><circle cx="383.8" cy="1092" r="5.5"/><circle cx="368" cy="1091.6" r="5.5"/><circle cx="391.7" cy="1090.1" r="5.5"/><circle cx="360.1" cy="1090.2" r="5.5"/><circle cx="371.9" cy="1095.5" r="5.5"/></g>
<path d="M335 967.3H417.4" stroke="#000" stroke-width="1.9" stroke-dasharray="2.9 1.9" fill="none"/>
<path d="M308 1007.8H443.7" stroke="#000" stroke-width="1.9" stroke-dasharray="6.3 2.3" fill="none"/>
<path d="M322.9 1046.2H429.4" stroke="#000" stroke-width="1.9" stroke-dasharray="2.9 1.9" fill="none"/>
<path d="M594.7 885.5V895" stroke="#000" stroke-width="2"/>
<path d="M595.1 893C595.3 893.9 595.9 895.9 596.5 898.2C597.1 900.5 598.6 903.7 598.9 906.7C599.2 909.7 598.2 912.8 598.3 916.4C598.5 920 599.7 924.5 599.8 928.5C599.9 932.5 598.8 936.7 598.9 940.7C599 944.8 599.3 949.2 600.2 952.8C601.1 956.4 603 959.5 604.4 962.5C605.8 965.5 608.5 968.6 608.7 971C608.9 973.4 606.8 975.1 605.6 977.1C604.4 979.1 601.6 981.3 601.4 983.1C601.2 984.9 602.5 986.4 604.4 988C606.3 989.6 610.3 991 612.9 992.8C615.5 994.6 618.7 996.7 620.2 998.9C621.7 1001.1 621.6 1004 622 1006.2C622.4 1008.4 621.5 1010.7 622.6 1012.3C623.7 1013.9 625.3 1014.5 628.7 1015.9C632.1 1017.3 638.4 1019.1 643.2 1020.7C648.1 1022.3 654 1024 657.8 1025.6C661.7 1027.2 664.7 1029 666.3 1030.5C667.9 1032 667.7 1033.3 667.3 1034.7C666.9 1036.1 665.5 1037.2 663.9 1038.9C662.3 1040.6 659.6 1043 657.8 1045C656 1047 655.3 1049.1 652.9 1051.1C650.5 1053.1 646.8 1054.9 643.2 1057.1C639.6 1059.3 635.1 1062 631.1 1064.4C627.1 1066.8 623 1069.3 619 1071.7C615 1074.1 609.7 1076.8 606.8 1079C603.9 1081.2 602.1 1083.1 601.4 1085.1C600.7 1087.1 602.3 1089.1 602.6 1091.1C602.9 1093.1 603.7 1095.2 603.2 1097.2C602.7 1099.2 600.9 1101.3 599.6 1103.3C598.3 1105.3 596.1 1107.9 595.3 1109.3C594.5 1110.7 595 1111.4 595 1111.8L594.4 1111.8C594.4 1111.4 594.9 1110.7 594.1 1109.3C593.3 1107.9 591.1 1105.3 589.8 1103.3C588.5 1101.3 586.7 1099.2 586.2 1097.2C585.7 1095.2 586.5 1093.1 586.8 1091.1C587.1 1089.1 588.7 1087.1 588 1085.1C587.3 1083.1 585.5 1081.2 582.6 1079C579.7 1076.8 574.5 1074.1 570.4 1071.7C566.4 1069.3 562.3 1066.8 558.3 1064.4C554.3 1062 549.8 1059.3 546.2 1057.1C542.6 1054.9 538.9 1053.1 536.5 1051.1C534.1 1049.1 533.4 1047 531.6 1045C529.8 1043 527.1 1040.6 525.5 1038.9C523.9 1037.2 522.5 1036.1 522.1 1034.7C521.7 1033.3 521.5 1032 523.1 1030.5C524.7 1029 527.8 1027.2 531.6 1025.6C535.5 1024 541.4 1022.3 546.2 1020.7C551.1 1019.1 557.3 1017.3 560.7 1015.9C564.1 1014.5 565.7 1013.9 566.8 1012.3C567.9 1010.7 567 1008.4 567.4 1006.2C567.8 1004 567.7 1001.1 569.2 998.9C570.7 996.7 573.9 994.6 576.5 992.8C579.1 991 583.1 989.6 585 988C586.9 986.4 588.2 984.9 588 983.1C587.8 981.3 585 979.1 583.8 977.1C582.6 975.1 580.5 973.4 580.7 971C580.9 968.6 583.6 965.5 585 962.5C586.4 959.5 588.3 956.4 589.2 952.8C590.1 949.2 590.4 944.8 590.5 940.7C590.6 936.7 589.5 932.5 589.6 928.5C589.7 924.5 591 920 591.1 916.4C591.2 912.8 590.2 909.7 590.5 906.7C590.8 903.7 592.3 900.5 592.9 898.2C593.5 895.9 594.1 893.9 594.3 893Z" fill="#ff0000" stroke="#000" stroke-width="2" stroke-linejoin="round"/>
<g fill="#cc0011"><circle cx="536.3" cy="1015.3" r="5.5"/><circle cx="554.1" cy="1015" r="5.5"/><circle cx="527.5" cy="1023.8" r="5.5"/><circle cx="652.7" cy="1023.8" r="5.5"/><circle cx="661.8" cy="1022.9" r="5.5"/><circle cx="608.1" cy="973.4" r="5.5"/><circle cx="616.9" cy="996.2" r="5.5"/><circle cx="585.4" cy="1100.5" r="5.5"/><circle cx="603" cy="1096.6" r="5.5"/><circle cx="594.7" cy="907.7" r="5.5"/><circle cx="594.7" cy="925.5" r="5.5"/><circle cx="594.7" cy="938.2" r="5.5"/><circle cx="594.7" cy="955.2" r="5.5"/><circle cx="590.2" cy="966.8" r="5.5"/><circle cx="590.2" cy="977.1" r="5.5"/><circle cx="598.7" cy="970.4" r="5.5"/><circle cx="594.7" cy="1089.3" r="5.5"/><circle cx="590.5" cy="1078" r="5.5"/><circle cx="599" cy="1075" r="5.5"/><circle cx="594.7" cy="991.6" r="5.5"/><circle cx="602.6" cy="991.4" r="5.5"/><circle cx="586.8" cy="991.4" r="5.5"/><circle cx="598.7" cy="997" r="5.5"/><circle cx="590.8" cy="999.5" r="5.5"/><circle cx="582.9" cy="997.7" r="5.5"/><circle cx="614.5" cy="997.5" r="5.5"/><circle cx="575" cy="996.2" r="5.5"/><circle cx="594.7" cy="1004.9" r="5.5"/><circle cx="602.6" cy="1003" r="5.5"/><circle cx="586.8" cy="1004.5" r="5.5"/><circle cx="610.5" cy="1002.1" r="5.5"/><circle cx="578.9" cy="1002.6" r="5.5"/><circle cx="598.7" cy="1009.8" r="5.5"/><circle cx="582.9" cy="1006.1" r="5.5"/><circle cx="614.5" cy="1009.6" r="5.5"/><circle cx="575" cy="1008.3" r="5.5"/><circle cx="594.7" cy="1012.6" r="5.5"/><circle cx="618.4" cy="1011.4" r="5.5"/><circle cx="571" cy="1013.1" r="5.5"/><circle cx="598.7" cy="1019.8" r="5.5"/><circle cx="606.6" cy="1019.1" r="5.5"/><circle cx="582.9" cy="1018.2" r="5.5"/><circle cx="614.5" cy="1019.1" r="5.5"/><circle cx="575" cy="1019.7" r="5.5"/><circle cx="622.4" cy="1017.2" r="5.5"/><circle cx="567.1" cy="1017" r="5.5"/><circle cx="630.2" cy="1018.8" r="5.5"/><circle cx="559.2" cy="1016.3" r="5.5"/><circle cx="594.7" cy="1023.3" r="5.5"/><circle cx="602.6" cy="1021.9" r="5.5"/><circle cx="586.8" cy="1021" r="5.5"/><circle cx="610.5" cy="1022.8" r="5.5"/><circle cx="618.4" cy="1024.5" r="5.5"/><circle cx="571" cy="1021.9" r="5.5"/><circle cx="626.3" cy="1024.8" r="5.5"/><circle cx="563.1" cy="1022.2" r="5.5"/><circle cx="634.2" cy="1023" r="5.5"/><circle cx="555.2" cy="1022.7" r="5.5"/><circle cx="642.1" cy="1023.7" r="5.5"/><circle cx="598.7" cy="1026.1" r="5.5"/><circle cx="590.8" cy="1027.7" r="5.5"/><circle cx="606.6" cy="1026.8" r="5.5"/><circle cx="575" cy="1026.8" r="5.5"/><circle cx="567.1" cy="1029.3" r="5.5"/><circle cx="630.2" cy="1026.9" r="5.5"/><circle cx="638.2" cy="1029.8" r="5.5"/><circle cx="551.2" cy="1026.7" r="5.5"/><circle cx="646.1" cy="1027.7" r="5.5"/><circle cx="543.4" cy="1029.8" r="5.5"/><circle cx="654" cy="1027.6" r="5.5"/><circle cx="535.5" cy="1029.9" r="5.5"/><circle cx="594.7" cy="1031.2" r="5.5"/><circle cx="602.6" cy="1032.6" r="5.5"/><circle cx="626.3" cy="1031.7" r="5.5"/><circle cx="555.2" cy="1033.7" r="5.5"/><circle cx="642.1" cy="1032.5" r="5.5"/><circle cx="547.3" cy="1031.7" r="5.5"/><circle cx="650" cy="1032.1" r="5.5"/><circle cx="539.4" cy="1034.8" r="5.5"/><circle cx="657.9" cy="1034.9" r="5.5"/><circle cx="531.5" cy="1032.4" r="5.5"/><circle cx="606.6" cy="1036.2" r="5.5"/><circle cx="582.9" cy="1037.5" r="5.5"/><circle cx="575" cy="1037.5" r="5.5"/><circle cx="567.1" cy="1037.6" r="5.5"/><circle cx="638.2" cy="1036.1" r="5.5"/><circle cx="551.2" cy="1039.7" r="5.5"/><circle cx="646.1" cy="1039" r="5.5"/><circle cx="654" cy="1037.1" r="5.5"/><circle cx="594.7" cy="1042" r="5.5"/><circle cx="602.6" cy="1042.3" r="5.5"/><circle cx="586.8" cy="1041" r="5.5"/><circle cx="618.4" cy="1044.8" r="5.5"/><circle cx="571" cy="1041.9" r="5.5"/><circle cx="626.3" cy="1044.8" r="5.5"/><circle cx="634.2" cy="1042" r="5.5"/><circle cx="555.2" cy="1043" r="5.5"/><circle cx="547.3" cy="1044.2" r="5.5"/><circle cx="590.8" cy="1047.3" r="5.5"/><circle cx="606.6" cy="1047.4" r="5.5"/><circle cx="614.5" cy="1046.8" r="5.5"/><circle cx="622.4" cy="1046.3" r="5.5"/><circle cx="567.1" cy="1048.2" r="5.5"/><circle cx="630.2" cy="1049.9" r="5.5"/><circle cx="551.2" cy="1046.3" r="5.5"/><circle cx="646.1" cy="1048" r="5.5"/><circle cx="543.4" cy="1047.8" r="5.5"/><circle cx="594.7" cy="1052.7" r="5.5"/><circle cx="602.6" cy="1053.7" r="5.5"/><circle cx="578.9" cy="1051.5" r="5.5"/><circle cx="571" cy="1053.3" r="5.5"/><circle cx="626.3" cy="1054" r="5.5"/><circle cx="563.1" cy="1052" r="5.5"/><circle cx="634.2" cy="1051.6" r="5.5"/><circle cx="642.1" cy="1052.3" r="5.5"/><circle cx="547.3" cy="1055" r="5.5"/><circle cx="598.7" cy="1056.9" r="5.5"/><circle cx="606.6" cy="1060" r="5.5"/><circle cx="582.9" cy="1057.9" r="5.5"/><circle cx="567.1" cy="1057.2" r="5.5"/><circle cx="630.2" cy="1056.8" r="5.5"/><circle cx="638.2" cy="1059.7" r="5.5"/><circle cx="551.2" cy="1059.5" r="5.5"/><circle cx="594.7" cy="1062" r="5.5"/><circle cx="610.5" cy="1063.4" r="5.5"/><circle cx="578.9" cy="1061.9" r="5.5"/><circle cx="618.4" cy="1061.6" r="5.5"/><circle cx="571" cy="1062" r="5.5"/><circle cx="626.3" cy="1063.6" r="5.5"/><circle cx="563.1" cy="1061" r="5.5"/><circle cx="598.7" cy="1068.7" r="5.5"/><circle cx="590.8" cy="1067.2" r="5.5"/><circle cx="606.6" cy="1069.2" r="5.5"/><circle cx="582.9" cy="1066.3" r="5.5"/><circle cx="614.5" cy="1067.6" r="5.5"/><circle cx="575" cy="1068.6" r="5.5"/></g>
<path d="M567.8 1015.3H621.2" stroke="#000" stroke-width="1.9" stroke-dasharray="2.9 1.9" fill="none"/>
<path d="M522.9 1034.7H666.7" stroke="#000" stroke-width="1.9" stroke-dasharray="6.3 2.3" fill="none"/>
<path d="M536.3 1051.9H652.7" stroke="#000" stroke-width="1.9" stroke-dasharray="2.9 1.9" fill="none"/>
<text x="161.6" y="638.7" font-family="'Liberation Sans', sans-serif" font-size="29" font-weight="bold" textLength="47.2" lengthAdjust="spacingAndGlyphs">250</text>
<text x="161.6" y="734.8" font-family="'Liberation Sans', sans-serif" font-size="29" font-weight="bold" textLength="47.2" lengthAdjust="spacingAndGlyphs">200</text>
<text x="161.6" y="831.6" font-family="'Liberation Sans', sans-serif" font-size="29" font-weight="bold" textLength="47.2" lengthAdjust="spacingAndGlyphs">150</text>
<text x="161.6" y="928.1" font-family="'Liberation Sans', sans-serif" font-size="29" font-weight="bold" textLength="47.2" lengthAdjust="spacingAndGlyphs">100</text>
<text x="177.4" y="1024.9" font-family="'Liberation Sans', sans-serif" font-size="29" font-weight="bold" textLength="31.5" lengthAdjust="spacingAndGlyphs">50</text>
<text x="193.1" y="1122" font-family="'Liberation Sans', sans-serif" font-size="29" font-weight="bold" textLength="15.7" lengthAdjust="spacingAndGlyphs">0</text>
<text x="439.6" y="653.1" font-family="'Liberation Sans', sans-serif" font-size="32" textLength="93.1" lengthAdjust="spacingAndGlyphs">0.0002</text>
<text transform="translate(107.7 971.6) rotate(-90)" x="0" y="0" font-family="'Liberation Sans', sans-serif" font-size="30.5" font-weight="bold" textLength="202.2" lengthAdjust="spacingAndGlyphs">Total collagen</text>
<text transform="translate(144.3 1079.2) rotate(-90)" x="0" y="0" font-family="'Liberation Sans', sans-serif" font-size="30.5" font-weight="bold" textLength="415.2" lengthAdjust="spacingAndGlyphs">(mg/gram wet weight plaque)</text>
<text x="279.8" y="1167.4" font-family="'Liberation Sans', sans-serif" font-size="29.3" font-weight="bold" textLength="164.1" lengthAdjust="spacingAndGlyphs">No diabetes</text>
<text x="489.8" y="1167.4" font-family="'Liberation Sans', sans-serif" font-size="29.3" font-weight="bold" textLength="210.8" lengthAdjust="spacingAndGlyphs">Type 2 diabetes</text>
<g stroke="#000" stroke-width="4.3" fill="none" stroke-linecap="butt">
<path d="M1133.5 634.5V1111.2"/>
<path d="M1116.8 1109.1H1661"/>
<path d="M1116.8 636.6H1133.5"/>
<path d="M1116.8 794.1H1133.5"/>
<path d="M1116.8 951.6H1133.5"/>
<path d="M1283.7 1109.1V1124.8"/>
<path d="M1509.6 1109.1V1124.8"/>
</g>
<path d="M1283.7 720.2V697.3H1509.6V984.2" fill="none" stroke="#000" stroke-width="4.3" stroke-linejoin="miter" stroke-linecap="round"/>
<path d="M1283.9 742.8V923" stroke="#000" stroke-width="2"/>
<path d="M1284.3 921C1284.8 922.9 1287 928.6 1287.4 932.6C1287.8 936.6 1286.8 940.8 1286.5 945C1286.2 949.2 1285.4 954.4 1285.6 958.1C1285.8 961.8 1287.2 963.5 1287.9 967.4C1288.6 971.3 1289.8 977.1 1289.7 981.4C1289.6 985.7 1286.8 989.1 1287.4 993C1288 996.9 1292 1000.8 1293.2 1004.7C1294.5 1008.6 1294.8 1012.4 1294.9 1016.3C1295 1020.2 1293.7 1024 1293.8 1027.9C1293.9 1031.8 1294.6 1035.6 1295.5 1039.5C1296.4 1043.4 1297.8 1047.3 1299 1051.2C1300.2 1055.1 1300.8 1059.3 1302.5 1062.8C1304.2 1066.3 1306.8 1069.4 1309.5 1072.1C1312.2 1074.8 1315.3 1077.2 1318.8 1079.1C1322.3 1081 1326.5 1082.2 1330.4 1083.7C1334.3 1085.2 1338.1 1086.9 1342 1088.4C1345.9 1090 1351 1091.7 1353.7 1093C1356.4 1094.3 1357.4 1095.3 1358.3 1096.5C1359.2 1097.7 1358.8 1098.8 1358.9 1100C1359 1101.2 1359 1102.6 1358.9 1104C1358.8 1105.4 1358.4 1107.7 1358.3 1108.4L1209.5 1108.4C1209.4 1107.7 1209 1105.4 1208.9 1104C1208.8 1102.6 1208.8 1101.2 1208.9 1100C1209 1098.8 1208.6 1097.7 1209.5 1096.5C1210.4 1095.3 1211.4 1094.3 1214.1 1093C1216.8 1091.7 1221.9 1090 1225.8 1088.4C1229.7 1086.9 1233.5 1085.2 1237.4 1083.7C1241.3 1082.2 1245.5 1081 1249 1079.1C1252.5 1077.2 1255.6 1074.8 1258.3 1072.1C1261 1069.4 1263.6 1066.3 1265.3 1062.8C1267.1 1059.3 1267.6 1055.1 1268.8 1051.2C1270 1047.3 1271.4 1043.4 1272.3 1039.5C1273.2 1035.6 1273.9 1031.8 1274 1027.9C1274.1 1024 1272.8 1020.2 1272.9 1016.3C1273 1012.4 1273.4 1008.6 1274.6 1004.7C1275.9 1000.8 1279.8 996.9 1280.4 993C1281 989.1 1278.2 985.7 1278.1 981.4C1278 977.1 1279.2 971.3 1279.9 967.4C1280.6 963.5 1282 961.8 1282.2 958.1C1282.4 954.4 1281.6 949.2 1281.3 945C1281 940.8 1280 936.6 1280.4 932.6C1280.8 928.6 1283 922.9 1283.5 921Z" fill="#0500ff" stroke="#000" stroke-width="2" stroke-linejoin="round"/>
<g fill="#0f55ff"><circle cx="1283.6" cy="768.4" r="5.4"/><circle cx="1283.6" cy="881.6" r="5.4"/><circle cx="1284.5" cy="937" r="5.4"/><circle cx="1283.5" cy="948.2" r="5.4"/><circle cx="1278" cy="970.5" r="5.4"/><circle cx="1287.5" cy="971" r="5.4"/><circle cx="1292.5" cy="976.5" r="5.4"/><circle cx="1275.5" cy="981" r="5.4"/><circle cx="1284" cy="986" r="5.4"/><circle cx="1274.5" cy="1005" r="5.4"/><circle cx="1293.5" cy="1008.5" r="5.4"/><circle cx="1283.5" cy="997" r="5.4"/><circle cx="1281" cy="1013" r="5.4"/><circle cx="1288" cy="1018" r="5.4"/><circle cx="1279" cy="1023" r="5.4"/><circle cx="1287" cy="1029" r="5.4"/><circle cx="1281" cy="1036" r="5.4"/><circle cx="1288" cy="1041" r="5.4"/><circle cx="1279" cy="1046" r="5.4"/><circle cx="1289" cy="1052" r="5.4"/><circle cx="1275" cy="1056" r="5.4"/><circle cx="1283" cy="1060" r="5.4"/><circle cx="1292" cy="1062" r="5.4"/><circle cx="1234" cy="1087.5" r="5.4"/><circle cx="1323.5" cy="1086.5" r="5.4"/><circle cx="1217" cy="1098" r="5.4"/><circle cx="1350" cy="1099" r="5.4"/><circle cx="1283.9" cy="1065" r="5.4"/><circle cx="1291.5" cy="1065.7" r="5.4"/><circle cx="1276.3" cy="1065.4" r="5.4"/><circle cx="1268.7" cy="1066.2" r="5.4"/><circle cx="1287.7" cy="1070.7" r="5.4"/><circle cx="1272.5" cy="1070.1" r="5.4"/><circle cx="1302.9" cy="1070.1" r="5.4"/><circle cx="1264.9" cy="1072.2" r="5.4"/><circle cx="1283.9" cy="1077" r="5.4"/><circle cx="1291.5" cy="1077.1" r="5.4"/><circle cx="1276.3" cy="1075" r="5.4"/><circle cx="1299.1" cy="1076.2" r="5.4"/><circle cx="1268.7" cy="1077.2" r="5.4"/><circle cx="1306.7" cy="1076.4" r="5.4"/><circle cx="1261.1" cy="1076" r="5.4"/><circle cx="1287.7" cy="1080.3" r="5.4"/><circle cx="1280.1" cy="1082.3" r="5.4"/><circle cx="1295.3" cy="1081" r="5.4"/><circle cx="1272.5" cy="1082.4" r="5.4"/><circle cx="1302.9" cy="1079.9" r="5.4"/><circle cx="1257.3" cy="1079.7" r="5.4"/><circle cx="1249.7" cy="1082.2" r="5.4"/><circle cx="1283.9" cy="1087.8" r="5.4"/><circle cx="1291.5" cy="1087.7" r="5.4"/><circle cx="1276.3" cy="1086.8" r="5.4"/><circle cx="1299.1" cy="1087.9" r="5.4"/><circle cx="1268.7" cy="1086.3" r="5.4"/><circle cx="1306.7" cy="1087" r="5.4"/><circle cx="1261.1" cy="1086" r="5.4"/><circle cx="1314.3" cy="1087.6" r="5.4"/><circle cx="1253.5" cy="1085.8" r="5.4"/><circle cx="1321.9" cy="1087.7" r="5.4"/><circle cx="1245.9" cy="1087.9" r="5.4"/><circle cx="1329.5" cy="1087.3" r="5.4"/><circle cx="1238.3" cy="1087.3" r="5.4"/><circle cx="1337.1" cy="1086.8" r="5.4"/><circle cx="1230.7" cy="1086.8" r="5.4"/><circle cx="1287.7" cy="1092.1" r="5.4"/><circle cx="1280.1" cy="1091" r="5.4"/><circle cx="1295.3" cy="1092.2" r="5.4"/><circle cx="1272.5" cy="1092.9" r="5.4"/><circle cx="1302.9" cy="1092.1" r="5.4"/><circle cx="1264.9" cy="1092.1" r="5.4"/><circle cx="1310.5" cy="1091.2" r="5.4"/><circle cx="1257.3" cy="1091.1" r="5.4"/><circle cx="1318.1" cy="1092.2" r="5.4"/><circle cx="1249.7" cy="1092.6" r="5.4"/><circle cx="1325.7" cy="1092.8" r="5.4"/><circle cx="1242.1" cy="1092.2" r="5.4"/><circle cx="1333.3" cy="1092.2" r="5.4"/><circle cx="1234.5" cy="1093.4" r="5.4"/><circle cx="1340.9" cy="1093.1" r="5.4"/><circle cx="1348.5" cy="1093" r="5.4"/><circle cx="1219.3" cy="1093.5" r="5.4"/><circle cx="1283.9" cy="1098.6" r="5.4"/><circle cx="1276.3" cy="1098.1" r="5.4"/><circle cx="1268.7" cy="1097" r="5.4"/><circle cx="1306.7" cy="1096.5" r="5.4"/><circle cx="1261.1" cy="1096.8" r="5.4"/><circle cx="1314.3" cy="1096.5" r="5.4"/><circle cx="1253.5" cy="1098.5" r="5.4"/><circle cx="1321.9" cy="1096.8" r="5.4"/><circle cx="1245.9" cy="1096.9" r="5.4"/><circle cx="1329.5" cy="1096.6" r="5.4"/><circle cx="1238.3" cy="1098.5" r="5.4"/><circle cx="1337.1" cy="1098.4" r="5.4"/><circle cx="1230.7" cy="1098.1" r="5.4"/><circle cx="1344.7" cy="1097.5" r="5.4"/><circle cx="1223.1" cy="1097" r="5.4"/><circle cx="1352.3" cy="1097.5" r="5.4"/><circle cx="1215.5" cy="1098.4" r="5.4"/><circle cx="1287.7" cy="1103.9" r="5.4"/><circle cx="1280.1" cy="1102.3" r="5.4"/><circle cx="1295.3" cy="1102" r="5.4"/><circle cx="1302.9" cy="1102.2" r="5.4"/><circle cx="1264.9" cy="1102.4" r="5.4"/><circle cx="1310.5" cy="1103.2" r="5.4"/><circle cx="1257.3" cy="1103.4" r="5.4"/><circle cx="1318.1" cy="1103" r="5.4"/><circle cx="1325.7" cy="1103" r="5.4"/><circle cx="1242.1" cy="1101.3" r="5.4"/><circle cx="1333.3" cy="1101.7" r="5.4"/><circle cx="1234.5" cy="1102.4" r="5.4"/><circle cx="1340.9" cy="1103.6" r="5.4"/><circle cx="1226.9" cy="1101.9" r="5.4"/><circle cx="1348.5" cy="1101.4" r="5.4"/><circle cx="1219.3" cy="1102.2" r="5.4"/><circle cx="1356.1" cy="1102.2" r="5.4"/><circle cx="1211.7" cy="1102.8" r="5.4"/><circle cx="1283.9" cy="1107" r="5.4"/><circle cx="1291.5" cy="1107.7" r="5.4"/><circle cx="1276.3" cy="1108.9" r="5.4"/><circle cx="1299.1" cy="1106.9" r="5.4"/><circle cx="1268.7" cy="1108.2" r="5.4"/><circle cx="1306.7" cy="1108.5" r="5.4"/><circle cx="1261.1" cy="1107.2" r="5.4"/><circle cx="1314.3" cy="1108.2" r="5.4"/><circle cx="1253.5" cy="1107.4" r="5.4"/><circle cx="1321.9" cy="1107.7" r="5.4"/><circle cx="1329.5" cy="1107.1" r="5.4"/><circle cx="1337.1" cy="1107.9" r="5.4"/><circle cx="1230.7" cy="1107.1" r="5.4"/><circle cx="1344.7" cy="1108.5" r="5.4"/><circle cx="1223.1" cy="1107.9" r="5.4"/><circle cx="1215.5" cy="1107" r="5.4"/></g>
<path d="M1269 1052.1H1298" stroke="#000" stroke-width="1.9" stroke-dasharray="2.9 1.9" fill="none"/>
<path d="M1228.4 1089.9H1340" stroke="#000" stroke-width="1.9" stroke-dasharray="6.3 2.3" fill="none"/>
<path d="M1209.2 1100.3H1358.6" stroke="#000" stroke-width="1.9" stroke-dasharray="2.9 1.9" fill="none"/>
<path d="M1509.8 1006V1014" stroke="#000" stroke-width="2"/>
<path d="M1510.2 1012C1510.3 1012.3 1510.2 1012.6 1510.9 1014C1511.6 1015.4 1514.3 1018 1514.4 1020.3C1514.4 1022.6 1510.9 1025.3 1511.2 1027.8C1511.5 1030.3 1516.3 1032.7 1516.4 1035.2C1516.4 1037.7 1511.3 1040.3 1511.5 1042.7C1511.7 1045.1 1516.1 1047.2 1517.8 1049.5C1519.5 1051.8 1522 1054.1 1521.8 1056.4C1521.6 1058.7 1516.1 1061.2 1516.8 1063.3C1517.5 1065.4 1522 1067 1525.8 1069C1529.5 1071 1537.9 1073.4 1539.3 1075.3C1540.7 1077.2 1533 1078.8 1534.4 1080.4C1535.8 1082 1541.8 1083.5 1547.6 1085C1553.4 1086.5 1564.3 1088.1 1569.3 1089.6C1574.2 1091.1 1575 1092.5 1577.3 1094.2C1579.6 1095.9 1581.9 1098.2 1583.1 1099.9C1584.2 1101.6 1584.1 1103.1 1584.2 1104.5C1584.3 1105.9 1583.9 1107.8 1583.8 1108.4L1435.8 1108.4C1435.7 1107.8 1435.3 1105.9 1435.4 1104.5C1435.5 1103.1 1435.3 1101.6 1436.5 1099.9C1437.7 1098.2 1440 1095.9 1442.3 1094.2C1444.6 1092.5 1445.3 1091.1 1450.3 1089.6C1455.2 1088.1 1466.2 1086.5 1472 1085C1477.8 1083.5 1483.8 1082 1485.2 1080.4C1486.6 1078.8 1478.9 1077.2 1480.3 1075.3C1481.7 1073.4 1490 1071 1493.8 1069C1497.5 1067 1502.1 1065.4 1502.8 1063.3C1503.5 1061.2 1498 1058.7 1497.8 1056.4C1497.6 1054.1 1500.1 1051.8 1501.8 1049.5C1503.5 1047.2 1507.9 1045.1 1508.1 1042.7C1508.3 1040.3 1503.2 1037.7 1503.2 1035.2C1503.2 1032.7 1508.1 1030.3 1508.4 1027.8C1508.7 1025.3 1505.2 1022.6 1505.2 1020.3C1505.2 1018 1508 1015.4 1508.7 1014C1509.4 1012.6 1509.3 1012.3 1509.4 1012Z" fill="#ff0000" stroke="#000" stroke-width="2" stroke-linejoin="round"/>
<g fill="#cc0011"><circle cx="1509.8" cy="1020.3" r="5.4"/><circle cx="1509.8" cy="1035" r="5.4"/><circle cx="1507.5" cy="1049.5" r="5.4"/><circle cx="1519" cy="1054" r="5.4"/><circle cx="1501.5" cy="1059.5" r="5.4"/><circle cx="1510" cy="1062" r="5.4"/><circle cx="1462.5" cy="1085.5" r="5.4"/><circle cx="1551" cy="1088" r="5.4"/><circle cx="1562" cy="1090" r="5.4"/><circle cx="1570" cy="1093.5" r="5.4"/><circle cx="1579.5" cy="1100.5" r="5.4"/><circle cx="1440" cy="1106" r="5.4"/><circle cx="1509.8" cy="1068" r="5.4"/><circle cx="1517.4" cy="1068.9" r="5.4"/><circle cx="1502.2" cy="1067.4" r="5.4"/><circle cx="1513.6" cy="1071.6" r="5.4"/><circle cx="1506" cy="1073.8" r="5.4"/><circle cx="1521.2" cy="1071.5" r="5.4"/><circle cx="1498.4" cy="1073.7" r="5.4"/><circle cx="1528.8" cy="1073.7" r="5.4"/><circle cx="1490.8" cy="1072.2" r="5.4"/><circle cx="1509.8" cy="1077.2" r="5.4"/><circle cx="1517.4" cy="1077.5" r="5.4"/><circle cx="1502.2" cy="1078.6" r="5.4"/><circle cx="1525" cy="1078.6" r="5.4"/><circle cx="1494.6" cy="1078.2" r="5.4"/><circle cx="1532.6" cy="1078.9" r="5.4"/><circle cx="1487" cy="1077.3" r="5.4"/><circle cx="1513.6" cy="1084.4" r="5.4"/><circle cx="1506" cy="1084.1" r="5.4"/><circle cx="1521.2" cy="1082.3" r="5.4"/><circle cx="1498.4" cy="1083.7" r="5.4"/><circle cx="1490.8" cy="1082.5" r="5.4"/><circle cx="1536.4" cy="1082.5" r="5.4"/><circle cx="1483.2" cy="1084.2" r="5.4"/><circle cx="1509.8" cy="1089.5" r="5.4"/><circle cx="1517.4" cy="1090.2" r="5.4"/><circle cx="1502.2" cy="1089.9" r="5.4"/><circle cx="1525" cy="1089.9" r="5.4"/><circle cx="1494.6" cy="1089.6" r="5.4"/><circle cx="1532.6" cy="1088.5" r="5.4"/><circle cx="1487" cy="1089.3" r="5.4"/><circle cx="1540.2" cy="1090.1" r="5.4"/><circle cx="1479.4" cy="1087.8" r="5.4"/><circle cx="1547.8" cy="1090.1" r="5.4"/><circle cx="1471.8" cy="1088.1" r="5.4"/><circle cx="1555.4" cy="1087.8" r="5.4"/><circle cx="1464.2" cy="1089.3" r="5.4"/><circle cx="1563" cy="1089.6" r="5.4"/><circle cx="1456.6" cy="1089.2" r="5.4"/><circle cx="1513.6" cy="1095" r="5.4"/><circle cx="1506" cy="1095.2" r="5.4"/><circle cx="1521.2" cy="1095.2" r="5.4"/><circle cx="1490.8" cy="1093.4" r="5.4"/><circle cx="1536.4" cy="1093" r="5.4"/><circle cx="1483.2" cy="1095" r="5.4"/><circle cx="1544" cy="1095" r="5.4"/><circle cx="1475.6" cy="1093.6" r="5.4"/><circle cx="1551.6" cy="1093.2" r="5.4"/><circle cx="1468" cy="1093.4" r="5.4"/><circle cx="1559.2" cy="1094" r="5.4"/><circle cx="1460.4" cy="1093.6" r="5.4"/><circle cx="1566.8" cy="1094.8" r="5.4"/><circle cx="1452.8" cy="1093.7" r="5.4"/><circle cx="1445.2" cy="1095.1" r="5.4"/><circle cx="1509.8" cy="1098.2" r="5.4"/><circle cx="1517.4" cy="1099.2" r="5.4"/><circle cx="1502.2" cy="1099" r="5.4"/><circle cx="1525" cy="1099.5" r="5.4"/><circle cx="1494.6" cy="1100.3" r="5.4"/><circle cx="1532.6" cy="1100.2" r="5.4"/><circle cx="1487" cy="1098.1" r="5.4"/><circle cx="1540.2" cy="1100.1" r="5.4"/><circle cx="1547.8" cy="1099.4" r="5.4"/><circle cx="1471.8" cy="1100.2" r="5.4"/><circle cx="1555.4" cy="1099.4" r="5.4"/><circle cx="1464.2" cy="1100.3" r="5.4"/><circle cx="1563" cy="1100.6" r="5.4"/><circle cx="1456.6" cy="1098.7" r="5.4"/><circle cx="1570.6" cy="1099.4" r="5.4"/><circle cx="1449" cy="1099.8" r="5.4"/><circle cx="1578.2" cy="1100.1" r="5.4"/><circle cx="1441.4" cy="1100.1" r="5.4"/><circle cx="1513.6" cy="1104.2" r="5.4"/><circle cx="1506" cy="1104.3" r="5.4"/><circle cx="1498.4" cy="1105.6" r="5.4"/><circle cx="1528.8" cy="1103.8" r="5.4"/><circle cx="1490.8" cy="1105.6" r="5.4"/><circle cx="1536.4" cy="1104.3" r="5.4"/><circle cx="1544" cy="1104.5" r="5.4"/><circle cx="1475.6" cy="1105.3" r="5.4"/><circle cx="1551.6" cy="1105" r="5.4"/><circle cx="1468" cy="1104.1" r="5.4"/><circle cx="1559.2" cy="1105.5" r="5.4"/><circle cx="1460.4" cy="1105.2" r="5.4"/><circle cx="1566.8" cy="1104.4" r="5.4"/><circle cx="1452.8" cy="1104.8" r="5.4"/><circle cx="1574.4" cy="1104.5" r="5.4"/></g>
<path d="M1485.6 1080.1H1534.8" stroke="#000" stroke-width="1.9" stroke-dasharray="2.9 1.9" fill="none"/>
<path d="M1443.2 1094.5H1574.9" stroke="#000" stroke-width="1.9" stroke-dasharray="6.3 2.3" fill="none"/>
<path d="M1435.8 1102.5H1582.9" stroke="#000" stroke-width="1.9" stroke-dasharray="2.9 1.9" fill="none"/>
<text x="1079" y="647.3" font-family="'Liberation Sans', sans-serif" font-size="30" font-weight="bold" textLength="32.4" lengthAdjust="spacingAndGlyphs">60</text>
<text x="1079" y="804.8" font-family="'Liberation Sans', sans-serif" font-size="30" font-weight="bold" textLength="32.4" lengthAdjust="spacingAndGlyphs">40</text>
<text x="1079" y="962.3" font-family="'Liberation Sans', sans-serif" font-size="30" font-weight="bold" textLength="32.4" lengthAdjust="spacingAndGlyphs">20</text>
<text x="1095.1" y="1119.8" font-family="'Liberation Sans', sans-serif" font-size="30" font-weight="bold" textLength="16.2" lengthAdjust="spacingAndGlyphs">0</text>
<text x="1348.8" y="677.2" font-family="'Liberation Sans', sans-serif" font-size="33" textLength="95.9" lengthAdjust="spacingAndGlyphs">0.0388</text>
<text transform="translate(1025.2 994.1) rotate(-90)" x="0" y="0" font-family="'Liberation Sans', sans-serif" font-size="32.1" font-weight="bold" textLength="241.5" lengthAdjust="spacingAndGlyphs">MOVAT collagen</text>
<text transform="translate(1063.9 1042.8) rotate(-90)" x="0" y="0" font-family="'Liberation Sans', sans-serif" font-size="32.3" font-weight="bold" textLength="340.4" lengthAdjust="spacingAndGlyphs">(% of total plaque area)</text>
<text x="1190.4" y="1169.4" font-family="'Liberation Sans', sans-serif" font-size="29.3" font-weight="bold" textLength="163.8" lengthAdjust="spacingAndGlyphs">No diabetes</text>
<text x="1408.5" y="1166.8" font-family="'Liberation Sans', sans-serif" font-size="29.3" font-weight="bold" textLength="209.6" lengthAdjust="spacingAndGlyphs">Type 2 diabetes</text>
<!-- panel_d -->
<path d="M241.6 1273V1695.3H891.9" fill="none" stroke="#6e6e6e" stroke-width="1.3"/>
<text x="235.6" y="1300.1" font-family="'DejaVu Sans', sans-serif" font-size="19" text-anchor="end" textLength="29.5" lengthAdjust="spacingAndGlyphs">1.0</text>
<text x="235.6" y="1376.8" font-family="'DejaVu Sans', sans-serif" font-size="19" text-anchor="end" textLength="29.5" lengthAdjust="spacingAndGlyphs">0.8</text>
<text x="235.6" y="1453.5" font-family="'DejaVu Sans', sans-serif" font-size="19" text-anchor="end" textLength="29.5" lengthAdjust="spacingAndGlyphs">0.6</text>
<text x="235.6" y="1530.2" font-family="'DejaVu Sans', sans-serif" font-size="19" text-anchor="end" textLength="29.5" lengthAdjust="spacingAndGlyphs">0.4</text>
<text x="235.6" y="1606.5" font-family="'DejaVu Sans', sans-serif" font-size="19" text-anchor="end" textLength="29.5" lengthAdjust="spacingAndGlyphs">0.2</text>
<text x="235.6" y="1683.6" font-family="'DejaVu Sans', sans-serif" font-size="19" text-anchor="end" textLength="29.5" lengthAdjust="spacingAndGlyphs">0.0</text>
<text x="274.6" y="1720" font-family="'DejaVu Sans', sans-serif" font-size="19" text-anchor="middle">0</text>
<text x="392.1" y="1720" font-family="'DejaVu Sans', sans-serif" font-size="19" text-anchor="middle">20</text>
<text x="510" y="1720" font-family="'DejaVu Sans', sans-serif" font-size="19" text-anchor="middle">40</text>
<text x="627" y="1720" font-family="'DejaVu Sans', sans-serif" font-size="19" text-anchor="middle">60</text>
<text x="745" y="1720" font-family="'DejaVu Sans', sans-serif" font-size="19" text-anchor="middle">80</text>
<text x="863.1" y="1720" font-family="'DejaVu Sans', sans-serif" font-size="19" text-anchor="middle">100</text>
<text transform="translate(162 1483.4) rotate(-90)" x="0" y="0" font-family="'DejaVu Sans', sans-serif" font-size="23.5" font-weight="bold" text-anchor="middle" textLength="245.8" lengthAdjust="spacingAndGlyphs">Proportion free from</text>
<text transform="translate(184.5 1483.2) rotate(-90)" x="0" y="0" font-family="'DejaVu Sans', sans-serif" font-size="23.5" font-weight="bold" text-anchor="middle" textLength="255.5" lengthAdjust="spacingAndGlyphs">cardiovascular events</text>
<text x="567.5" y="1761.5" font-family="'DejaVu Sans', sans-serif" font-size="22.5" font-weight="bold" text-anchor="middle" textLength="525" lengthAdjust="spacingAndGlyphs">Time to postoperative cardiovascular events</text>
<text x="568.5" y="1783.9" font-family="'DejaVu Sans', sans-serif" font-size="22.5" font-weight="bold" text-anchor="middle" textLength="105" lengthAdjust="spacingAndGlyphs">(months)</text>
<path d="M274.2 1290.5V1309.5H280.2V1319.5H292.1V1328.9H315.5V1338.5H321.4V1348.2H327.4V1358H456V1377.5H498.1V1388.1H748.1" fill="none" stroke="#4a8fe0" stroke-width="1.3"/>
<path d="M432.7 1353.2v9.6M473.4 1372.7v9.6M503.6 1383.3v9.6M515.3 1383.3v9.6M521.4 1383.3v9.6M532.9 1383.3v9.6M538.9 1383.3v9.6M544.7 1383.3v9.6M550.7 1383.3v9.6M574 1383.3v9.6M597.3 1383.3v9.6M632.4 1383.3v9.6M667.8 1383.3v9.6M673.8 1383.3v9.6M679.5 1383.3v9.6M697.1 1383.3v9.6M702.9 1383.3v9.6M708.9 1383.3v9.6M714.6 1383.3v9.6M732.4 1383.3v9.6M744.2 1383.3v9.6" fill="none" stroke="#4a8fe0" stroke-width="1.2"/>
<path d="M274.2 1290.5V1309.5H280.2V1328.9H286.2V1366.9H321.4V1386.4H498.1V1409H521.4V1430.9H550.7V1452.3H585.8V1477.5H614.9V1505.4H626.7V1533.5H691.6V1568.6H760.1" fill="none" stroke="#dc1e4a" stroke-width="1.6"/>
<path d="M432.7 1381.6v9.6M473.4 1381.6v9.6M579.8 1447.5v9.6M603.3 1472.7v9.6M632.4 1528.7v9.6M720.9 1563.8v9.6M738.2 1563.8v9.6M756 1563.8v9.6" fill="none" stroke="#dc1e4a" stroke-width="1.2"/>
<text x="285.4" y="1848" font-family="'Liberation Sans', sans-serif" font-size="23.5" text-anchor="middle" textLength="13.3" lengthAdjust="spacingAndGlyphs">0</text>
<text x="406" y="1848" font-family="'Liberation Sans', sans-serif" font-size="23.5" text-anchor="middle" textLength="25.8" lengthAdjust="spacingAndGlyphs">20</text>
<text x="523" y="1848.8" font-family="'Liberation Sans', sans-serif" font-size="23.5" text-anchor="middle" textLength="25.8" lengthAdjust="spacingAndGlyphs">40</text>
<text x="641.1" y="1848" font-family="'Liberation Sans', sans-serif" font-size="23.5" text-anchor="middle" textLength="25.8" lengthAdjust="spacingAndGlyphs">60</text>
<text x="752.2" y="1847.5" font-family="'Liberation Sans', sans-serif" font-size="23.5" text-anchor="middle" textLength="25.8" lengthAdjust="spacingAndGlyphs">80</text>
<text x="285.1" y="1911" font-family="'Liberation Sans', sans-serif" font-size="23.5" text-anchor="middle" textLength="55" lengthAdjust="spacingAndGlyphs">40(1)</text>
<text x="405.2" y="1911" font-family="'Liberation Sans', sans-serif" font-size="23.5" text-anchor="middle" textLength="55" lengthAdjust="spacingAndGlyphs">33(7)</text>
<text x="522.8" y="1909.8" font-family="'Liberation Sans', sans-serif" font-size="23.5" text-anchor="middle" textLength="68" lengthAdjust="spacingAndGlyphs">25(10)</text>
<text x="640.1" y="1911" font-family="'Liberation Sans', sans-serif" font-size="23.5" text-anchor="middle" textLength="67" lengthAdjust="spacingAndGlyphs">12(10)</text>
<text x="752.1" y="1910.3" font-family="'Liberation Sans', sans-serif" font-size="23.5" text-anchor="middle" textLength="55" lengthAdjust="spacingAndGlyphs">0(10)</text>
<text x="285.1" y="1972.8" font-family="'Liberation Sans', sans-serif" font-size="23.5" text-anchor="middle" textLength="55" lengthAdjust="spacingAndGlyphs">19(1)</text>
<text x="405.2" y="1972.8" font-family="'Liberation Sans', sans-serif" font-size="23.5" text-anchor="middle" textLength="55" lengthAdjust="spacingAndGlyphs">15(5)</text>
<text x="523.4" y="1972" font-family="'Liberation Sans', sans-serif" font-size="23.5" text-anchor="middle" textLength="54.5" lengthAdjust="spacingAndGlyphs">11(7)</text>
<text x="640.3" y="1972.8" font-family="'Liberation Sans', sans-serif" font-size="23.5" text-anchor="middle" textLength="54.5" lengthAdjust="spacingAndGlyphs">5(11)</text>
<text x="752.4" y="1972.1" font-family="'Liberation Sans', sans-serif" font-size="23.5" text-anchor="middle" textLength="54.5" lengthAdjust="spacingAndGlyphs">1(12)</text>
<text x="828.5" y="1812.5" font-family="'Liberation Sans', sans-serif" font-size="21.8" font-weight="bold" textLength="103" lengthAdjust="spacingAndGlyphs">No at risk</text>
<text x="828.5" y="1843.4" font-family="'Liberation Sans', sans-serif" font-size="21.8" font-weight="bold" textLength="165.5" lengthAdjust="spacingAndGlyphs">Time  (months)</text>
<text x="828.5" y="1906.4" font-family="'Liberation Sans', sans-serif" font-size="23.5" textLength="231.5" lengthAdjust="spacingAndGlyphs" fill="#2f5597">1<tspan font-size="14" dy="-8">st</tspan><tspan dy="8"> and 2</tspan><tspan font-size="14" dy="-8">nd</tspan><tspan dy="8"> tertile of VI</tspan></text>
<text x="828.5" y="1968.9" font-family="'Liberation Sans', sans-serif" font-size="23.5" textLength="151.5" lengthAdjust="spacingAndGlyphs" fill="#ff0000">3<tspan font-size="14" dy="-8">rd</tspan><tspan dy="8"> tertile of VI</tspan></text>
<!-- panel_e -->
<path d="M1370.6 1277.3V1861.8" stroke="#828282" stroke-width="1.5" stroke-dasharray="8 7.17" fill="none"/>
<path d="M1453 1277.3V1861.8" stroke="#828282" stroke-width="1.5" stroke-dasharray="8 7.17" fill="none"/>
<path d="M1618 1277.3V1861.8" stroke="#828282" stroke-width="1.5" stroke-dasharray="8 7.17" fill="none"/>
<path d="M1700.4 1277.3V1861.8" stroke="#828282" stroke-width="1.5" stroke-dasharray="8 7.17" fill="none"/>
<path d="M1535.4 1275.7V1862" stroke="#000" stroke-width="3" fill="none"/>
<path d="M1308.8 1343.2H1467.9" stroke="#2f3a5c" stroke-width="4.6" fill="none"/>
<circle cx="1388.1" cy="1343.2" r="9.4" fill="#2f3a5c"/>
<text x="1012.8" y="1354" font-family="'Liberation Sans', sans-serif" font-size="27.4" textLength="263.9" lengthAdjust="spacingAndGlyphs">Alpha–actin (% area)</text>
<path d="M1392 1455.7H1530.1" stroke="#2f3a5c" stroke-width="4.6" fill="none"/>
<circle cx="1461.1" cy="1455.7" r="9.4" fill="#2f3a5c"/>
<text x="1083.8" y="1466.5" font-family="'Liberation Sans', sans-serif" font-size="27.4" textLength="192.8" lengthAdjust="spacingAndGlyphs">Movat (% area)</text>
<path d="M1524.9 1568.7H1673.7" stroke="#2f3a5c" stroke-width="4.6" fill="none"/>
<circle cx="1598.9" cy="1568.7" r="7" fill="#fff" stroke="#2f3a5c" stroke-width="4.6"/>
<text x="982.3" y="1579.5" font-family="'Liberation Sans', sans-serif" font-size="27.4" textLength="294.4" lengthAdjust="spacingAndGlyphs">Glycophorin A (% area)</text>
<path d="M1488.8 1681.2H1634.8" stroke="#2f3a5c" stroke-width="4.6" fill="none"/>
<circle cx="1561.8" cy="1681.2" r="7" fill="#fff" stroke="#2f3a5c" stroke-width="4.6"/>
<text x="1087.9" y="1692" font-family="'Liberation Sans', sans-serif" font-size="27.4" textLength="188.8" lengthAdjust="spacingAndGlyphs">CD68 (% area)</text>
<path d="M1530.3 1793.9H1684.5" stroke="#2f3a5c" stroke-width="4.6" fill="none"/>
<circle cx="1607.4" cy="1793.9" r="7" fill="#fff" stroke="#2f3a5c" stroke-width="4.6"/>
<text x="1096" y="1804.7" font-family="'Liberation Sans', sans-serif" font-size="27.4" textLength="180.6" lengthAdjust="spacingAndGlyphs">ORO (% area)</text>
<text x="1334.5" y="1895.3" font-family="'Liberation Sans', sans-serif" font-size="28.4" textLength="71.8" lengthAdjust="spacingAndGlyphs">−0.50</text>
<text x="1416.4" y="1895.3" font-family="'Liberation Sans', sans-serif" font-size="28.4" textLength="73" lengthAdjust="spacingAndGlyphs">−0.25</text>
<text x="1507.6" y="1895.3" font-family="'Liberation Sans', sans-serif" font-size="28.4" textLength="55.6" lengthAdjust="spacingAndGlyphs">0.00</text>
<text x="1590.7" y="1895.3" font-family="'Liberation Sans', sans-serif" font-size="28.4" textLength="55.1" lengthAdjust="spacingAndGlyphs">0.25</text>
<text x="1672.6" y="1895.3" font-family="'Liberation Sans', sans-serif" font-size="28.4" textLength="55.6" lengthAdjust="spacingAndGlyphs">0.50</text>
<text x="1398.8" y="1929.2" font-family="'Liberation Sans', sans-serif" font-size="28" textLength="193.4" lengthAdjust="spacingAndGlyphs">Beta coefficient</text>
<!-- letters -->
<text><tspan x="-1.3" y="109.8" font-family="'Liberation Sans', sans-serif" font-size="65.1" textLength="28.4" lengthAdjust="spacingAndGlyphs">a</tspan><tspan x="37.5" y="108.2" font-family="'Liberation Sans', sans-serif" font-size="67.7" textLength="18.2" lengthAdjust="spacingAndGlyphs">)</tspan></text>
<text><tspan x="6" y="617.7" font-family="'Liberation Sans', sans-serif" font-size="68.6" textLength="37.1" lengthAdjust="spacingAndGlyphs">b</tspan><tspan x="48.7" y="616.2" font-family="'Liberation Sans', sans-serif" font-size="67.7" textLength="17.3" lengthAdjust="spacingAndGlyphs">)</tspan></text>
<text><tspan x="927.3" y="627.4" font-family="'Liberation Sans', sans-serif" font-size="66.1" textLength="30.3" lengthAdjust="spacingAndGlyphs">c</tspan><tspan x="960.7" y="625.2" font-family="'Liberation Sans', sans-serif" font-size="67.9" textLength="17.2" lengthAdjust="spacingAndGlyphs">)</tspan></text>
<text><tspan x="6.5" y="1236" font-family="'Liberation Sans', sans-serif" font-size="69" textLength="37.1" lengthAdjust="spacingAndGlyphs">d</tspan><tspan x="48.7" y="1234.3" font-family="'Liberation Sans', sans-serif" font-size="67.7" textLength="17.3" lengthAdjust="spacingAndGlyphs">)</tspan></text>
<text><tspan x="943.1" y="1236.2" font-family="'Liberation Sans', sans-serif" font-size="65.5" textLength="36" lengthAdjust="spacingAndGlyphs">e</tspan><tspan x="982.5" y="1234.4" font-family="'Liberation Sans', sans-serif" font-size="67.9" textLength="18.1" lengthAdjust="spacingAndGlyphs">)</tspan></text>
<text x="151.9" y="82.8" font-family="'Liberation Sans', sans-serif" font-size="29.3" font-weight="bold" textLength="163.6" lengthAdjust="spacingAndGlyphs">No diabetes</text>
<text x="463" y="82.7" font-family="'Liberation Sans', sans-serif" font-size="29.3" font-weight="bold" textLength="212.5" lengthAdjust="spacingAndGlyphs">Type 2 diabetes</text>
</svg>
</body></html>
